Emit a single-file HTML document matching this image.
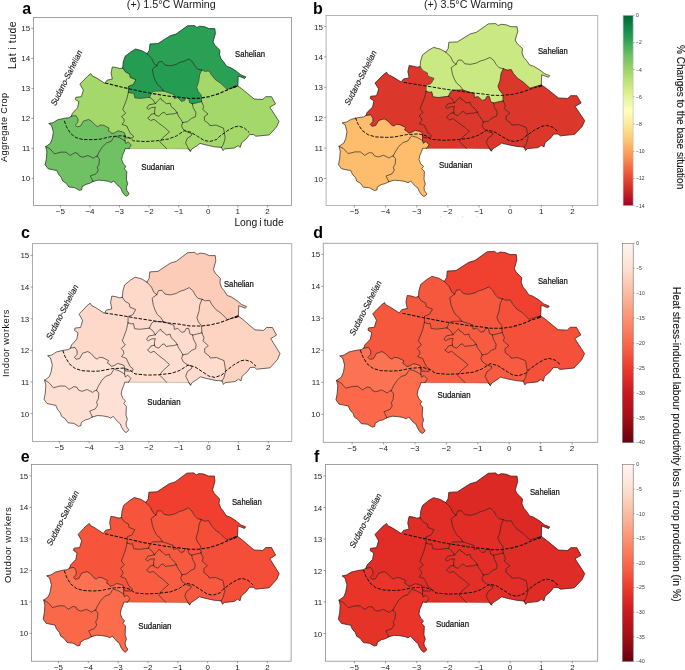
<!DOCTYPE html>
<html><head><meta charset="utf-8"><title>Figure</title>
<style>
html,body{margin:0;padding:0;background:#fff;overflow:hidden;}
body{width:685px;height:670px;position:relative;overflow:hidden;font-family:"Liberation Sans",sans-serif;color:#111;}
svg text{font-family:"Liberation Sans",sans-serif;}
#wrap{position:absolute;left:0;top:0;width:685px;height:670px;overflow:hidden;will-change:transform;transform:translateZ(0);}
.tk{font-size:8px;fill:#262626;}
.cb{font-size:5px;fill:#333;}
.zn{font-size:8.5px;fill:#111;stroke:#111;stroke-width:0.22px;}
.zi{font-size:8.6px;fill:#111;stroke:#111;stroke-width:0.12px;}
.t{position:absolute;white-space:nowrap;line-height:1;}
.pl{font-weight:bold;font-size:16px;color:#000;}
.ttl{font-size:10.75px;color:#1a1a1a;}
.rot{transform-origin:0 0;}
.sb{color:#111;-webkit-text-stroke:0.1px #111;}
</style></head><body><div id="wrap">
<svg width="685" height="670" viewBox="0 0 685 670" style="position:absolute;left:0;top:0">
<g>
<path d="M45.8 146.7L50.4 143.3L52.2 138.9L53.4 132.2L51.6 125.5L48.7 123.5L52.8 122.8L57.4 119.9L64.4 118.3L68.9 117.8L71.5 116.1L75.9 115.6L77.9 118.9L77.9 122.2L75.4 125.0L77.0 126.9L80.5 126.1L83.4 121.1L88.6 119.5L92.1 121.6L95.6 125.5L97.9 126.7L100.0 125.0L103.6 125.3L109.1 128.1L108.0 130.5L110.5 131.9L111.6 133.6L114.5 132.9L118.1 130.8L122.4 131.9L124.6 132.9L125.0 135.6L125.0 140.9L123.9 140.2L119.6 137.7L114.8 136.3L113.7 137.4L111.2 141.3L106.5 143.0L102.5 146.7L99.0 152.2L97.2 156.2L95.6 156.6L93.3 158.2L88.0 155.5L82.8 157.2L79.3 156.0L77.6 153.3L74.8 152.7L70.1 155.5L66.0 152.2L60.9 152.2L54.5 153.9L49.9 148.8L45.8 146.7Z" fill="#70c164" stroke="#70c164" stroke-width="0.4" stroke-linejoin="round"/>
<path d="M93.0 181.5L89.5 183.4L86.1 184.3L82.1 186.7L81.7 189.8L79.3 190.3L74.8 187.6L68.9 187.0L66.0 183.1L62.6 181.0L61.4 177.6L58.5 174.3L56.8 170.4L53.4 169.9L48.1 168.7L45.2 164.8L46.4 158.8L46.9 151.6L45.8 146.7L49.9 148.8L54.5 153.9L60.9 152.2L66.0 152.2L70.1 155.5L74.8 152.7L77.6 153.3L79.3 156.0L82.8 157.2L88.0 155.5L93.3 158.2L95.6 156.6L97.2 156.2L99.4 158.9L99.0 164.3L97.3 167.2L98.2 170.5L96.0 173.9L90.3 175.9L91.6 178.4L93.0 181.5Z" fill="#70c164" stroke="#70c164" stroke-width="0.4" stroke-linejoin="round"/>
<path d="M129.0 148.6L125.1 148.6L124.2 151.5L122.4 155.6L121.6 159.7L123.3 163.9L125.9 166.4L124.2 168.8L126.8 171.4L126.4 179.6L127.7 183.8L126.4 187.1L126.8 190.4L129.0 193.4L128.6 194.6L126.4 196.3L124.2 194.6L122.0 191.3L120.8 188.0L118.2 185.9L115.5 182.9L113.8 180.9L111.2 182.6L108.6 181.3L103.4 180.5L98.2 180.1L93.0 181.5L91.6 178.4L90.3 175.9L96.0 173.9L98.2 170.5L97.3 167.2L99.0 164.3L99.4 158.9L97.2 156.2L99.0 152.2L102.5 146.7L106.5 143.0L111.2 141.3L113.7 137.4L114.8 136.3L119.6 137.7L123.9 140.2L125.0 140.9L125.7 143.6L128.2 141.9L131.2 145.0L129.0 148.6Z" fill="#70c164" stroke="#70c164" stroke-width="0.4" stroke-linejoin="round"/>
<path d="M71.5 116.1L72.4 113.3L77.6 107.8L78.8 101.7L75.4 99.5L75.9 97.3L81.4 96.7L83.4 90.1L79.9 84.1L87.5 76.3L90.9 73.6L92.1 75.8L96.7 78.1L104.8 83.3L107.1 80.2L112.3 79.1L111.1 73.0L112.3 67.0L116.4 67.5L119.9 68.6L122.7 68.1L125.6 72.0L129.7 74.2L130.3 77.5L136.0 79.7L133.1 84.7L128.5 86.3L128.4 92.3L126.8 99.0L122.7 109.4L125.7 113.3L121.6 116.6L123.9 119.0L124.2 121.5L122.0 124.3L126.8 126.0L128.2 129.1L130.4 133.6L133.6 136.0L132.5 138.1L125.9 137.9L125.0 135.6L124.6 132.9L122.4 131.9L118.1 130.8L114.5 132.9L111.6 133.6L110.5 131.9L108.0 130.5L109.1 128.1L103.6 125.3L100.0 125.0L97.9 126.7L95.6 125.5L92.1 121.6L88.6 119.5L83.4 121.1L80.5 126.1L77.0 126.9L75.4 125.0L77.9 122.2L77.9 118.9L75.9 115.6L71.5 116.1Z" fill="#a5d86a" stroke="#a5d86a" stroke-width="0.4" stroke-linejoin="round"/>
<path d="M122.7 68.1L123.3 62.1L125.0 56.4L130.9 51.8L135.5 49.1L141.9 50.7L147.1 53.7L151.7 58.4L154.0 63.5L156.9 65.6L152.3 69.0L153.5 75.6L155.1 80.1L157.5 84.6L161.0 87.3L163.3 91.0L153.7 91.2L151.7 92.8L149.6 97.3L140.2 98.4L134.9 97.9L133.7 92.8L132.0 93.4L128.4 92.3L128.5 86.3L133.1 84.7L136.0 79.7L130.3 77.5L129.7 74.2L125.6 72.0L122.7 68.1Z" fill="#249d53" stroke="#249d53" stroke-width="0.4" stroke-linejoin="round"/>
<path d="M147.1 53.7L149.4 50.2L150.0 44.0L158.1 43.6L170.2 35.8L176.0 34.1L187.5 25.8L194.5 25.6L196.9 27.5L199.7 26.2L204.4 26.7L208.9 28.6L214.8 28.6L215.4 33.5L213.0 41.9L214.8 45.2L219.9 50.2L219.5 54.6L221.1 59.0L223.5 61.7L226.7 66.4L230.6 67.6L236.6 71.4L240.7 74.8L245.8 76.9L244.6 78.4L240.7 76.9L238.2 76.0L237.8 86.0L227.0 89.3L224.5 87.0L220.4 83.1L215.4 79.7L211.3 74.8L209.2 70.9L205.2 71.4L201.7 70.0L197.7 69.1L195.1 66.1L192.6 61.8L189.0 58.9L184.0 61.3L179.9 62.4L176.0 64.5L170.2 65.8L165.0 65.1L162.1 61.5L158.6 61.8L156.9 65.6L154.0 63.5L151.7 58.4L147.1 53.7Z" fill="#2aa054" stroke="#2aa054" stroke-width="0.4" stroke-linejoin="round"/>
<path d="M156.9 65.6L158.6 61.8L162.1 61.5L165.0 65.1L170.2 65.8L176.0 64.5L179.9 62.4L184.0 61.3L189.0 58.9L192.6 61.8L195.1 66.1L197.7 69.1L201.7 70.0L199.6 74.8L198.6 81.7L196.7 87.4L198.1 91.3L201.2 95.2L201.6 101.7L192.4 103.9L189.7 102.7L188.5 97.7L186.1 97.6L184.6 100.6L181.6 101.4L177.6 97.5L174.4 98.5L173.9 94.5L163.3 91.0L161.0 87.3L157.5 84.6L155.1 80.1L153.5 75.6L152.3 69.0L156.9 65.6Z" fill="#249d53" stroke="#249d53" stroke-width="0.4" stroke-linejoin="round"/>
<path d="M237.8 86.0L241.4 88.5L254.1 99.0L262.8 99.5L265.7 96.7L271.5 96.7L275.5 103.9L269.8 107.2L279.0 121.4L276.5 127.0L269.2 134.9L267.5 135.1L255.9 136.2L253.6 134.5L249.6 134.5L246.7 138.4L241.5 142.9L240.3 147.3L238.0 145.6L234.5 147.9L224.7 148.9L222.9 150.6L221.5 147.4L223.5 144.1L225.2 137.7L223.5 128.1L216.1 125.1L209.8 125.6L208.8 123.7L204.5 120.6L204.3 116.7L208.0 114.0L202.6 109.4L203.8 106.7L201.6 101.7L201.2 95.2L198.1 91.3L196.7 87.4L198.6 81.7L199.6 74.8L201.7 70.0L205.2 71.4L209.2 70.9L211.3 74.8L215.4 79.7L220.4 83.1L224.5 87.0L227.0 89.3L237.8 86.0Z" fill="#a5d86a" stroke="#a5d86a" stroke-width="0.4" stroke-linejoin="round"/>
<path d="M221.5 147.4L214.5 146.8L206.4 145.0L200.0 143.4L197.2 145.6L191.9 148.9L190.4 151.2L187.8 147.3L185.6 142.9L187.2 138.4L191.3 135.7L191.9 133.5L187.8 132.3L183.1 129.2L181.5 125.9L182.8 122.6L187.5 121.7L191.5 118.4L195.4 116.8L195.9 112.6L193.2 107.6L192.4 103.9L201.6 101.7L203.8 106.7L202.6 109.4L208.0 114.0L204.3 116.7L204.5 120.6L208.8 123.7L209.8 125.6L216.1 125.1L223.5 128.1L225.2 137.7L223.5 144.1L221.5 147.4Z" fill="#a5d86a" stroke="#a5d86a" stroke-width="0.4" stroke-linejoin="round"/>
<path d="M190.4 151.2L188.4 148.9L166.6 148.6L163.2 145.1L159.7 141.8L162.6 137.9L169.5 131.9L164.6 127.5L158.5 123.0L154.1 119.3L150.7 120.5L147.6 118.0L149.8 116.3L151.1 114.2L154.6 113.5L155.4 115.1L158.9 116.3L162.0 113.0L164.2 112.2L166.3 114.7L168.9 114.2L173.7 113.9L177.1 112.8L178.4 116.0L181.1 119.7L182.8 122.6L181.5 125.9L183.1 129.2L187.8 132.3L191.9 133.5L191.3 135.7L187.2 138.4L185.6 142.9L187.8 147.3L190.4 151.2Z" fill="#a5d86a" stroke="#a5d86a" stroke-width="0.4" stroke-linejoin="round"/>
<path d="M166.6 148.6L129.0 148.6L131.2 145.0L128.2 141.9L125.7 143.6L125.0 140.9L125.0 135.6L125.9 137.9L132.5 138.1L133.6 136.0L130.4 133.6L128.2 129.1L126.8 126.0L122.0 124.3L124.2 121.5L123.9 119.0L121.6 116.6L125.7 113.3L122.7 109.4L126.8 99.0L128.4 92.3L132.0 93.4L133.7 92.8L134.9 97.9L140.2 98.4L149.6 97.3L153.3 100.1L155.4 103.6L149.0 104.8L146.8 108.1L148.5 109.3L151.6 107.6L155.4 107.2L154.6 110.1L154.6 113.5L151.1 114.2L149.8 116.3L147.6 118.0L150.7 120.5L154.1 119.3L158.5 123.0L164.6 127.5L169.5 131.9L162.6 137.9L159.7 141.8L163.2 145.1L166.6 148.6Z" fill="#a5d86a" stroke="#a5d86a" stroke-width="0.4" stroke-linejoin="round"/>
<path d="M149.6 97.3L151.7 92.8L153.7 91.2L163.3 91.0L173.9 94.5L174.4 98.5L177.6 97.5L181.6 101.4L184.6 100.6L186.1 97.6L188.5 97.7L189.7 102.7L192.4 103.9L193.2 107.6L195.9 112.6L195.4 116.8L191.5 118.4L187.5 121.7L182.8 122.6L181.1 119.7L178.4 116.0L177.1 112.8L175.0 109.7L171.1 106.4L170.2 103.1L166.3 103.9L164.2 101.5L161.6 100.1L160.7 98.0L157.6 101.0L155.4 103.6L153.3 100.1L149.6 97.3Z" fill="#a5d86a" stroke="#a5d86a" stroke-width="0.4" stroke-linejoin="round"/>
<path d="M155.4 103.6L157.6 101.0L160.7 98.0L161.6 100.1L164.2 101.5L166.3 103.9L170.2 103.1L171.1 106.4L175.0 109.7L177.1 112.8L173.7 113.9L168.9 114.2L166.3 114.7L164.2 112.2L162.0 113.0L158.9 116.3L155.4 115.1L154.6 113.5L154.6 110.1L155.4 107.2L151.6 107.6L148.5 109.3L146.8 108.1L149.0 104.8L155.4 103.6Z" fill="#a5d86a" stroke="#a5d86a" stroke-width="0.4" stroke-linejoin="round"/>
<path d="M71.5 116.1L72.4 113.3L77.6 107.8L78.8 101.7L75.4 99.5L75.9 97.3L81.4 96.7L83.4 90.1L79.9 84.1L87.5 76.3L90.9 73.6L92.1 75.8L96.7 78.1L104.8 83.3L107.1 80.2L112.3 79.1L111.1 73.0L112.3 67.0L116.4 67.5L119.9 68.6L122.7 68.1M122.7 68.1L123.3 62.1L125.0 56.4L130.9 51.8L135.5 49.1L141.9 50.7L147.1 53.7M147.1 53.7L149.4 50.2L150.0 44.0L158.1 43.6L170.2 35.8L176.0 34.1L187.5 25.8L194.5 25.6L196.9 27.5L199.7 26.2L204.4 26.7L208.9 28.6L214.8 28.6L215.4 33.5L213.0 41.9L214.8 45.2L219.9 50.2L219.5 54.6L221.1 59.0L223.5 61.7L226.7 66.4L230.6 67.6L236.6 71.4L240.7 74.8L245.8 76.9L244.6 78.4L240.7 76.9L238.2 76.0L237.8 86.0M237.8 86.0L241.4 88.5L254.1 99.0L262.8 99.5L265.7 96.7L271.5 96.7L275.5 103.9L269.8 107.2L279.0 121.4L276.5 127.0L269.2 134.9L267.5 135.1L255.9 136.2L253.6 134.5L249.6 134.5L246.7 138.4L241.5 142.9L240.3 147.3L238.0 145.6L234.5 147.9L224.7 148.9L222.9 150.6L221.5 147.4M221.5 147.4L214.5 146.8L206.4 145.0L200.0 143.4L197.2 145.6L191.9 148.9L190.4 151.2M129.0 148.6L125.1 148.6L124.2 151.5L122.4 155.6L121.6 159.7L123.3 163.9L125.9 166.4L124.2 168.8L126.8 171.4L126.4 179.6L127.7 183.8L126.4 187.1L126.8 190.4L129.0 193.4L128.6 194.6L126.4 196.3L124.2 194.6L122.0 191.3L120.8 188.0L118.2 185.9L115.5 182.9L113.8 180.9L111.2 182.6L108.6 181.3L103.4 180.5L98.2 180.1L93.0 181.5M93.0 181.5L89.5 183.4L86.1 184.3L82.1 186.7L81.7 189.8L79.3 190.3L74.8 187.6L68.9 187.0L66.0 183.1L62.6 181.0L61.4 177.6L58.5 174.3L56.8 170.4L53.4 169.9L48.1 168.7L45.2 164.8L46.4 158.8L46.9 151.6L45.8 146.7M45.8 146.7L50.4 143.3L52.2 138.9L53.4 132.2L51.6 125.5L48.7 123.5L52.8 122.8L57.4 119.9L64.4 118.3L68.9 117.8L71.5 116.1M71.5 116.1L75.9 115.6L77.9 118.9L77.9 122.2L75.4 125.0L77.0 126.9L80.5 126.1L83.4 121.1L88.6 119.5L92.1 121.6L95.6 125.5L97.9 126.7L100.0 125.0L103.6 125.3L109.1 128.1L108.0 130.5L110.5 131.9L111.6 133.6L114.5 132.9L118.1 130.8L122.4 131.9L124.6 132.9L125.0 135.6M122.7 68.1L125.6 72.0L129.7 74.2L130.3 77.5L136.0 79.7L133.1 84.7L128.5 86.3L128.4 92.3M128.4 92.3L126.8 99.0L122.7 109.4L125.7 113.3L121.6 116.6L123.9 119.0L124.2 121.5L122.0 124.3L126.8 126.0L128.2 129.1L130.4 133.6L133.6 136.0L132.5 138.1L125.9 137.9L125.0 135.6M147.1 53.7L151.7 58.4L154.0 63.5L156.9 65.6M156.9 65.6L158.6 61.8L162.1 61.5L165.0 65.1L170.2 65.8L176.0 64.5L179.9 62.4L184.0 61.3L189.0 58.9L192.6 61.8L195.1 66.1L197.7 69.1L201.7 70.0M201.7 70.0L205.2 71.4L209.2 70.9L211.3 74.8L215.4 79.7L220.4 83.1L224.5 87.0L227.0 89.3L237.8 86.0M156.9 65.6L152.3 69.0L153.5 75.6L155.1 80.1L157.5 84.6L161.0 87.3L163.3 91.0M128.4 92.3L132.0 93.4L133.7 92.8L134.9 97.9L140.2 98.4L149.6 97.3M149.6 97.3L151.7 92.8L153.7 91.2L163.3 91.0M163.3 91.0L173.9 94.5L174.4 98.5L177.6 97.5L181.6 101.4L184.6 100.6L186.1 97.6L188.5 97.7L189.7 102.7L192.4 103.9M192.4 103.9L201.6 101.7M201.7 70.0L199.6 74.8L198.6 81.7L196.7 87.4L198.1 91.3L201.2 95.2L201.6 101.7M201.6 101.7L203.8 106.7L202.6 109.4L208.0 114.0L204.3 116.7L204.5 120.6L208.8 123.7L209.8 125.6L216.1 125.1L223.5 128.1L225.2 137.7L223.5 144.1L221.5 147.4M149.6 97.3L153.3 100.1L155.4 103.6M155.4 103.6L157.6 101.0L160.7 98.0L161.6 100.1L164.2 101.5L166.3 103.9L170.2 103.1L171.1 106.4L175.0 109.7L177.1 112.8M177.1 112.8L173.7 113.9L168.9 114.2L166.3 114.7L164.2 112.2L162.0 113.0L158.9 116.3L155.4 115.1L154.6 113.5M154.6 113.5L154.6 110.1L155.4 107.2L151.6 107.6L148.5 109.3L146.8 108.1L149.0 104.8L155.4 103.6M177.1 112.8L178.4 116.0L181.1 119.7L182.8 122.6M192.4 103.9L193.2 107.6L195.9 112.6L195.4 116.8L191.5 118.4L187.5 121.7L182.8 122.6M182.8 122.6L181.5 125.9L183.1 129.2L187.8 132.3L191.9 133.5L191.3 135.7L187.2 138.4L185.6 142.9L187.8 147.3L190.4 151.2M154.6 113.5L151.1 114.2L149.8 116.3L147.6 118.0L150.7 120.5L154.1 119.3L158.5 123.0L164.6 127.5L169.5 131.9L162.6 137.9L159.7 141.8L163.2 145.1L166.6 148.6M125.0 135.6L125.0 140.9M97.2 156.2L99.0 152.2L102.5 146.7L106.5 143.0L111.2 141.3L113.7 137.4L114.8 136.3L119.6 137.7L123.9 140.2L125.0 140.9M125.0 140.9L125.7 143.6L128.2 141.9L131.2 145.0L129.0 148.6M45.8 146.7L49.9 148.8L54.5 153.9L60.9 152.2L66.0 152.2L70.1 155.5L74.8 152.7L77.6 153.3L79.3 156.0L82.8 157.2L88.0 155.5L93.3 158.2L95.6 156.6L97.2 156.2M97.2 156.2L99.4 158.9L99.0 164.3L97.3 167.2L98.2 170.5L96.0 173.9L90.3 175.9L91.6 178.4L93.0 181.5" fill="none" stroke="#161616" stroke-width="0.62" stroke-linejoin="round" stroke-linecap="round"/>
<path d="M190.4 151.2L188.4 148.9" fill="none" stroke="#161616" stroke-width="0.62" stroke-linecap="round"/>
<path d="M188.4 148.9L166.6 148.6M166.6 148.6L129.0 148.6" fill="none" stroke="#000" stroke-opacity="0.33" stroke-width="0.55"/>
<path d="M105.1 83.0L120.1 86.7L143.1 91.9L166.0 95.8L179.1 97.2L189.2 98.5L199.2 98.3L209.3 96.6L219.4 93.5L225.9 90.5L236.4 86.2" fill="none" stroke="#111" stroke-width="1.15" stroke-dasharray="3.4 1.5"/>
<path d="M64.3 120.8L66.5 126.8L70.4 133.3L76.0 137.6L82.7 139.5L92.8 139.7L99.9 139.2L111.1 136.6L122.3 135.7L129.0 137.6L133.4 140.8L144.6 141.6L155.8 140.9L168.5 139.0L176.4 136.0L184.1 130.7L190.8 132.2L197.5 136.3L204.3 140.5L209.9 141.5L216.6 139.5L219.7 136.3L227.6 130.6L234.3 127.0L238.7 126.1L244.3 127.9L249.3 132.6" fill="none" stroke="#111" stroke-width="0.95" stroke-dasharray="3.4 1.5"/>
<path d="M236.4 86.2l-3.2 1.1" fill="none" stroke="#111" stroke-width="1.8"/>
<rect x="33.4" y="17.4" width="258.0" height="188.0" fill="none" stroke="#7d7d7d" stroke-width="0.7"/>
<path d="M33.4 178.4h-2" stroke="#444" stroke-width="0.5"/>
<text x="30.2" y="181.4" class="tk" text-anchor="end">10</text>
<path d="M33.4 148.4h-2" stroke="#444" stroke-width="0.5"/>
<text x="30.2" y="151.4" class="tk" text-anchor="end">11</text>
<path d="M33.4 118.4h-2" stroke="#444" stroke-width="0.5"/>
<text x="30.2" y="121.4" class="tk" text-anchor="end">12</text>
<path d="M33.4 88.4h-2" stroke="#444" stroke-width="0.5"/>
<text x="30.2" y="91.4" class="tk" text-anchor="end">13</text>
<path d="M33.4 58.4h-2" stroke="#444" stroke-width="0.5"/>
<text x="30.2" y="61.4" class="tk" text-anchor="end">14</text>
<path d="M33.4 28.4h-2" stroke="#444" stroke-width="0.5"/>
<text x="30.2" y="31.4" class="tk" text-anchor="end">15</text>
<path d="M60.4 205.4v2" stroke="#444" stroke-width="0.5"/>
<text x="60.4" y="214.0" class="tk" text-anchor="middle">−5</text>
<path d="M90.0 205.4v2" stroke="#444" stroke-width="0.5"/>
<text x="90.0" y="214.0" class="tk" text-anchor="middle">−4</text>
<path d="M119.5 205.4v2" stroke="#444" stroke-width="0.5"/>
<text x="119.5" y="214.0" class="tk" text-anchor="middle">−3</text>
<path d="M149.1 205.4v2" stroke="#444" stroke-width="0.5"/>
<text x="149.1" y="214.0" class="tk" text-anchor="middle">−2</text>
<path d="M178.7 205.4v2" stroke="#444" stroke-width="0.5"/>
<text x="178.7" y="214.0" class="tk" text-anchor="middle">−1</text>
<path d="M208.3 205.4v2" stroke="#444" stroke-width="0.5"/>
<text x="208.3" y="214.0" class="tk" text-anchor="middle">0</text>
<path d="M237.8 205.4v2" stroke="#444" stroke-width="0.5"/>
<text x="237.8" y="214.0" class="tk" text-anchor="middle">1</text>
<path d="M267.4 205.4v2" stroke="#444" stroke-width="0.5"/>
<text x="267.4" y="214.0" class="tk" text-anchor="middle">2</text>
<text x="235.1" y="56.8" class="zn" textLength="29.9" lengthAdjust="spacingAndGlyphs">Sahelian</text>
<text x="141.2" y="170.1" class="zn" textLength="33.2" lengthAdjust="spacingAndGlyphs">Sudanian</text>
<text transform="translate(67.1 78.1) rotate(-63.4) skewX(-9)" class="zi" x="-30.2" y="2.3" textLength="60.4" lengthAdjust="spacingAndGlyphs">Sudano-Sahelian</text>
</g>
<g>
<path d="M339.1 146.3L343.9 143.0L345.8 138.5L347.0 131.6L345.2 124.9L342.1 122.9L346.4 122.1L351.3 119.3L358.6 117.6L363.4 117.0L366.1 115.4L370.7 114.8L372.9 118.2L372.9 121.6L370.2 124.3L372.0 126.3L375.6 125.5L378.7 120.4L384.2 118.8L387.9 121.0L391.5 124.9L393.9 126.1L396.2 124.3L400.0 124.7L405.7 127.5L404.6 129.9L407.3 131.4L408.4 133.1L411.4 132.4L415.2 130.3L419.8 131.4L422.1 132.4L422.5 135.1L422.5 140.5L421.4 139.8L416.8 137.3L411.8 135.9L410.6 136.9L408.0 140.9L403.0 142.6L398.8 146.3L395.2 151.9L393.2 156.0L391.5 156.4L389.1 158.0L383.6 155.3L378.0 157.0L374.4 155.8L372.6 153.1L369.6 152.5L364.7 155.3L360.4 151.9L355.0 151.9L348.2 153.6L343.4 148.5L339.1 146.3Z" fill="#fdbd6d" stroke="#fdbd6d" stroke-width="0.4" stroke-linejoin="round"/>
<path d="M388.8 181.7L385.1 183.6L381.5 184.5L377.3 186.9L376.9 190.0L374.4 190.6L369.6 187.8L363.4 187.2L360.4 183.3L356.7 181.1L355.5 177.7L352.5 174.4L350.7 170.4L347.0 169.9L341.5 168.7L338.5 164.8L339.7 158.6L340.3 151.3L339.1 146.3L343.4 148.5L348.2 153.6L355.0 151.9L360.4 151.9L364.7 155.3L369.6 152.5L372.6 153.1L374.4 155.8L378.0 157.0L383.6 155.3L389.1 158.0L391.5 156.4L393.2 156.0L395.6 158.7L395.2 164.2L393.3 167.2L394.2 170.5L391.9 173.9L386.0 176.0L387.3 178.5L388.8 181.7Z" fill="#fdbd6d" stroke="#fdbd6d" stroke-width="0.4" stroke-linejoin="round"/>
<path d="M426.7 148.3L422.6 148.3L421.7 151.2L419.8 155.4L419.0 159.6L420.7 163.8L423.5 166.3L421.7 168.8L424.4 171.4L424.0 179.7L425.3 184.0L424.0 187.3L424.4 190.7L426.7 193.7L426.3 194.9L424.0 196.6L421.7 194.9L419.4 191.6L418.0 188.2L415.3 186.1L412.5 183.1L410.7 181.0L408.0 182.7L405.2 181.5L399.8 180.6L394.2 180.2L388.8 181.7L387.3 178.5L386.0 176.0L391.9 173.9L394.2 170.5L393.3 167.2L395.2 164.2L395.6 158.7L393.2 156.0L395.2 151.9L398.8 146.3L403.0 142.6L408.0 140.9L410.6 136.9L411.8 135.9L416.8 137.3L421.4 139.8L422.5 140.5L423.2 143.3L425.9 141.5L429.0 144.7L426.7 148.3Z" fill="#fdbd6d" stroke="#fdbd6d" stroke-width="0.4" stroke-linejoin="round"/>
<path d="M366.1 115.4L367.1 112.5L372.6 107.0L373.9 100.8L370.2 98.5L370.7 96.3L376.6 95.7L378.7 89.0L375.0 83.0L382.9 75.1L386.6 72.3L387.9 74.5L392.7 76.8L401.2 82.1L403.6 79.0L409.2 77.9L407.9 71.7L409.2 65.6L413.4 66.2L417.1 67.2L420.1 66.7L423.1 70.7L427.4 72.9L428.0 76.2L434.1 78.4L431.1 83.5L426.2 85.2L426.1 91.2L424.4 98.0L420.1 108.6L423.2 112.5L419.0 115.9L421.4 118.3L421.7 120.8L419.4 123.7L424.4 125.4L425.9 128.6L428.1 133.1L431.6 135.6L430.4 137.7L423.5 137.5L422.5 135.1L422.1 132.4L419.8 131.4L415.2 130.3L411.4 132.4L408.4 133.1L407.3 131.4L404.6 129.9L405.7 127.5L400.0 124.7L396.2 124.3L393.9 126.1L391.5 124.9L387.9 121.0L384.2 118.8L378.7 120.4L375.6 125.5L372.0 126.3L370.2 124.3L372.9 121.6L372.9 118.2L370.7 114.8L366.1 115.4Z" fill="#db382b" stroke="#db382b" stroke-width="0.4" stroke-linejoin="round"/>
<path d="M420.1 66.7L420.7 60.7L422.5 54.9L428.7 50.2L433.6 47.4L440.3 49.1L445.8 52.1L450.6 56.9L453.1 62.0L456.1 64.2L451.2 67.6L452.5 74.3L454.2 78.9L456.8 83.4L460.4 86.2L462.8 90.0L452.7 90.2L450.6 91.8L448.4 96.3L438.5 97.5L433.0 96.9L431.7 91.8L429.9 92.4L426.1 91.2L426.2 85.2L431.1 83.5L434.1 78.4L428.0 76.2L427.4 72.9L423.1 70.7L420.1 66.7Z" fill="#cbe982" stroke="#cbe982" stroke-width="0.4" stroke-linejoin="round"/>
<path d="M445.8 52.1L448.2 48.6L448.8 42.3L457.4 41.9L470.1 34.0L476.3 32.3L488.4 23.9L495.7 23.6L498.2 25.5L501.2 24.3L506.1 24.8L510.9 26.7L517.1 26.7L517.7 31.7L515.2 40.1L517.1 43.5L522.5 48.6L522.0 53.0L523.8 57.5L526.3 60.2L529.6 65.0L533.7 66.3L540.1 70.1L544.3 73.5L549.8 75.7L548.5 77.2L544.3 75.7L541.7 74.7L541.3 84.9L529.9 88.2L527.3 85.8L523.0 81.9L517.7 78.4L513.4 73.5L511.2 69.6L507.0 70.1L503.3 68.7L499.0 67.7L496.3 64.7L493.7 60.3L489.9 57.4L484.6 59.8L480.3 61.0L476.3 63.1L470.1 64.4L464.7 63.7L461.6 60.0L457.9 60.3L456.1 64.2L453.1 62.0L450.6 56.9L445.8 52.1Z" fill="#cbe982" stroke="#cbe982" stroke-width="0.4" stroke-linejoin="round"/>
<path d="M456.1 64.2L457.9 60.3L461.6 60.0L464.7 63.7L470.1 64.4L476.3 63.1L480.3 61.0L484.6 59.8L489.9 57.4L493.7 60.3L496.3 64.7L499.0 67.7L503.3 68.7L501.1 73.5L500.1 80.5L498.0 86.3L499.6 90.3L502.8 94.2L503.2 100.8L493.5 103.0L490.7 101.8L489.4 96.7L486.8 96.6L485.3 99.7L482.1 100.4L477.9 96.5L474.5 97.6L474.0 93.5L462.8 90.0L460.4 86.2L456.8 83.4L454.2 78.9L452.5 74.3L451.2 67.6L456.1 64.2Z" fill="#cbe982" stroke="#cbe982" stroke-width="0.4" stroke-linejoin="round"/>
<path d="M541.3 84.9L545.1 87.4L558.5 98.0L567.6 98.5L570.7 95.7L576.8 95.7L581.1 103.0L575.0 106.4L584.7 120.7L582.1 126.5L574.4 134.4L572.6 134.6L560.4 135.8L558.0 134.0L553.7 134.0L550.7 138.0L545.2 142.5L543.9 147.0L541.5 145.3L537.9 147.6L527.5 148.6L525.6 150.4L524.2 147.1L526.3 143.7L528.1 137.3L526.3 127.5L518.4 124.5L511.9 125.0L510.8 123.1L506.2 119.9L506.0 116.0L509.9 113.2L504.2 108.6L505.5 105.8L503.2 100.8L502.8 94.2L499.6 90.3L498.0 86.3L500.1 80.5L501.1 73.5L503.3 68.7L507.0 70.1L511.2 69.6L513.4 73.5L517.7 78.4L523.0 81.9L527.3 85.8L529.9 88.2L541.3 84.9Z" fill="#db382b" stroke="#db382b" stroke-width="0.4" stroke-linejoin="round"/>
<path d="M524.2 147.1L516.8 146.4L508.2 144.7L501.5 143.1L498.5 145.3L493.0 148.6L491.4 150.9L488.7 147.0L486.3 142.5L488.1 138.0L492.3 135.2L493.0 133.0L488.7 131.8L483.7 128.7L482.0 125.3L483.4 121.9L488.4 121.1L492.6 117.7L496.6 116.1L497.2 111.9L494.3 106.8L493.5 103.0L503.2 100.8L505.5 105.8L504.2 108.6L509.9 113.2L506.0 116.0L506.2 119.9L510.8 123.1L511.9 125.0L518.4 124.5L526.3 127.5L528.1 137.3L526.3 143.7L524.2 147.1Z" fill="#db382b" stroke="#db382b" stroke-width="0.4" stroke-linejoin="round"/>
<path d="M491.4 150.9L489.3 148.6L466.4 148.3L462.7 144.8L459.0 141.4L462.1 137.5L469.4 131.4L464.2 126.9L457.8 122.3L453.2 118.6L449.5 119.8L446.3 117.3L448.6 115.6L450.0 113.5L453.7 112.7L454.6 114.4L458.2 115.6L461.4 112.2L463.7 111.4L466.0 114.0L468.8 113.5L473.8 113.1L477.4 112.1L478.8 115.2L481.6 119.0L483.4 121.9L482.0 125.3L483.7 128.7L488.7 131.8L493.0 133.0L492.3 135.2L488.1 138.0L486.3 142.5L488.7 147.0L491.4 150.9Z" fill="#db382b" stroke="#db382b" stroke-width="0.4" stroke-linejoin="round"/>
<path d="M466.4 148.3L426.7 148.3L429.0 144.7L425.9 141.5L423.2 143.3L422.5 140.5L422.5 135.1L423.5 137.5L430.4 137.7L431.6 135.6L428.1 133.1L425.9 128.6L424.4 125.4L419.4 123.7L421.7 120.8L421.4 118.3L419.0 115.9L423.2 112.5L420.1 108.6L424.4 98.0L426.1 91.2L429.9 92.4L431.7 91.8L433.0 96.9L438.5 97.5L448.4 96.3L452.3 99.2L454.6 102.7L447.8 103.9L445.5 107.3L447.3 108.5L450.5 106.8L454.6 106.4L453.7 109.3L453.7 112.7L450.0 113.5L448.6 115.6L446.3 117.3L449.5 119.8L453.2 118.6L457.8 122.3L464.2 126.9L469.4 131.4L462.1 137.5L459.0 141.4L462.7 144.8L466.4 148.3Z" fill="#db382b" stroke="#db382b" stroke-width="0.4" stroke-linejoin="round"/>
<path d="M448.4 96.3L450.6 91.8L452.7 90.2L462.8 90.0L474.0 93.5L474.5 97.6L477.9 96.5L482.1 100.4L485.3 99.7L486.8 96.6L489.4 96.7L490.7 101.8L493.5 103.0L494.3 106.8L497.2 111.9L496.6 116.1L492.6 117.7L488.4 121.1L483.4 121.9L481.6 119.0L478.8 115.2L477.4 112.1L475.1 108.9L471.1 105.5L470.1 102.2L466.0 103.0L463.7 100.5L461.0 99.2L460.1 97.1L456.9 100.1L454.6 102.7L452.3 99.2L448.4 96.3Z" fill="#db382b" stroke="#db382b" stroke-width="0.4" stroke-linejoin="round"/>
<path d="M454.6 102.7L456.9 100.1L460.1 97.1L461.0 99.2L463.7 100.5L466.0 103.0L470.1 102.2L471.1 105.5L475.1 108.9L477.4 112.1L473.8 113.1L468.8 113.5L466.0 114.0L463.7 111.4L461.4 112.2L458.2 115.6L454.6 114.4L453.7 112.7L453.7 109.3L454.6 106.4L450.5 106.8L447.3 108.5L445.5 107.3L447.8 103.9L454.6 102.7Z" fill="#db382b" stroke="#db382b" stroke-width="0.4" stroke-linejoin="round"/>
<path d="M366.1 115.4L367.1 112.5L372.6 107.0L373.9 100.8L370.2 98.5L370.7 96.3L376.6 95.7L378.7 89.0L375.0 83.0L382.9 75.1L386.6 72.3L387.9 74.5L392.7 76.8L401.2 82.1L403.6 79.0L409.2 77.9L407.9 71.7L409.2 65.6L413.4 66.2L417.1 67.2L420.1 66.7M420.1 66.7L420.7 60.7L422.5 54.9L428.7 50.2L433.6 47.4L440.3 49.1L445.8 52.1M445.8 52.1L448.2 48.6L448.8 42.3L457.4 41.9L470.1 34.0L476.3 32.3L488.4 23.9L495.7 23.6L498.2 25.5L501.2 24.3L506.1 24.8L510.9 26.7L517.1 26.7L517.7 31.7L515.2 40.1L517.1 43.5L522.5 48.6L522.0 53.0L523.8 57.5L526.3 60.2L529.6 65.0L533.7 66.3L540.1 70.1L544.3 73.5L549.8 75.7L548.5 77.2L544.3 75.7L541.7 74.7L541.3 84.9M541.3 84.9L545.1 87.4L558.5 98.0L567.6 98.5L570.7 95.7L576.8 95.7L581.1 103.0L575.0 106.4L584.7 120.7L582.1 126.5L574.4 134.4L572.6 134.6L560.4 135.8L558.0 134.0L553.7 134.0L550.7 138.0L545.2 142.5L543.9 147.0L541.5 145.3L537.9 147.6L527.5 148.6L525.6 150.4L524.2 147.1M524.2 147.1L516.8 146.4L508.2 144.7L501.5 143.1L498.5 145.3L493.0 148.6L491.4 150.9M426.7 148.3L422.6 148.3L421.7 151.2L419.8 155.4L419.0 159.6L420.7 163.8L423.5 166.3L421.7 168.8L424.4 171.4L424.0 179.7L425.3 184.0L424.0 187.3L424.4 190.7L426.7 193.7L426.3 194.9L424.0 196.6L421.7 194.9L419.4 191.6L418.0 188.2L415.3 186.1L412.5 183.1L410.7 181.0L408.0 182.7L405.2 181.5L399.8 180.6L394.2 180.2L388.8 181.7M388.8 181.7L385.1 183.6L381.5 184.5L377.3 186.9L376.9 190.0L374.4 190.6L369.6 187.8L363.4 187.2L360.4 183.3L356.7 181.1L355.5 177.7L352.5 174.4L350.7 170.4L347.0 169.9L341.5 168.7L338.5 164.8L339.7 158.6L340.3 151.3L339.1 146.3M339.1 146.3L343.9 143.0L345.8 138.5L347.0 131.6L345.2 124.9L342.1 122.9L346.4 122.1L351.3 119.3L358.6 117.6L363.4 117.0L366.1 115.4M366.1 115.4L370.7 114.8L372.9 118.2L372.9 121.6L370.2 124.3L372.0 126.3L375.6 125.5L378.7 120.4L384.2 118.8L387.9 121.0L391.5 124.9L393.9 126.1L396.2 124.3L400.0 124.7L405.7 127.5L404.6 129.9L407.3 131.4L408.4 133.1L411.4 132.4L415.2 130.3L419.8 131.4L422.1 132.4L422.5 135.1M420.1 66.7L423.1 70.7L427.4 72.9L428.0 76.2L434.1 78.4L431.1 83.5L426.2 85.2L426.1 91.2M426.1 91.2L424.4 98.0L420.1 108.6L423.2 112.5L419.0 115.9L421.4 118.3L421.7 120.8L419.4 123.7L424.4 125.4L425.9 128.6L428.1 133.1L431.6 135.6L430.4 137.7L423.5 137.5L422.5 135.1M445.8 52.1L450.6 56.9L453.1 62.0L456.1 64.2M456.1 64.2L457.9 60.3L461.6 60.0L464.7 63.7L470.1 64.4L476.3 63.1L480.3 61.0L484.6 59.8L489.9 57.4L493.7 60.3L496.3 64.7L499.0 67.7L503.3 68.7M503.3 68.7L507.0 70.1L511.2 69.6L513.4 73.5L517.7 78.4L523.0 81.9L527.3 85.8L529.9 88.2L541.3 84.9M456.1 64.2L451.2 67.6L452.5 74.3L454.2 78.9L456.8 83.4L460.4 86.2L462.8 90.0M426.1 91.2L429.9 92.4L431.7 91.8L433.0 96.9L438.5 97.5L448.4 96.3M448.4 96.3L450.6 91.8L452.7 90.2L462.8 90.0M462.8 90.0L474.0 93.5L474.5 97.6L477.9 96.5L482.1 100.4L485.3 99.7L486.8 96.6L489.4 96.7L490.7 101.8L493.5 103.0M493.5 103.0L503.2 100.8M503.3 68.7L501.1 73.5L500.1 80.5L498.0 86.3L499.6 90.3L502.8 94.2L503.2 100.8M503.2 100.8L505.5 105.8L504.2 108.6L509.9 113.2L506.0 116.0L506.2 119.9L510.8 123.1L511.9 125.0L518.4 124.5L526.3 127.5L528.1 137.3L526.3 143.7L524.2 147.1M448.4 96.3L452.3 99.2L454.6 102.7M454.6 102.7L456.9 100.1L460.1 97.1L461.0 99.2L463.7 100.5L466.0 103.0L470.1 102.2L471.1 105.5L475.1 108.9L477.4 112.1M477.4 112.1L473.8 113.1L468.8 113.5L466.0 114.0L463.7 111.4L461.4 112.2L458.2 115.6L454.6 114.4L453.7 112.7M453.7 112.7L453.7 109.3L454.6 106.4L450.5 106.8L447.3 108.5L445.5 107.3L447.8 103.9L454.6 102.7M477.4 112.1L478.8 115.2L481.6 119.0L483.4 121.9M493.5 103.0L494.3 106.8L497.2 111.9L496.6 116.1L492.6 117.7L488.4 121.1L483.4 121.9M483.4 121.9L482.0 125.3L483.7 128.7L488.7 131.8L493.0 133.0L492.3 135.2L488.1 138.0L486.3 142.5L488.7 147.0L491.4 150.9M453.7 112.7L450.0 113.5L448.6 115.6L446.3 117.3L449.5 119.8L453.2 118.6L457.8 122.3L464.2 126.9L469.4 131.4L462.1 137.5L459.0 141.4L462.7 144.8L466.4 148.3M422.5 135.1L422.5 140.5M393.2 156.0L395.2 151.9L398.8 146.3L403.0 142.6L408.0 140.9L410.6 136.9L411.8 135.9L416.8 137.3L421.4 139.8L422.5 140.5M422.5 140.5L423.2 143.3L425.9 141.5L429.0 144.7L426.7 148.3M339.1 146.3L343.4 148.5L348.2 153.6L355.0 151.9L360.4 151.9L364.7 155.3L369.6 152.5L372.6 153.1L374.4 155.8L378.0 157.0L383.6 155.3L389.1 158.0L391.5 156.4L393.2 156.0M393.2 156.0L395.6 158.7L395.2 164.2L393.3 167.2L394.2 170.5L391.9 173.9L386.0 176.0L387.3 178.5L388.8 181.7" fill="none" stroke="#161616" stroke-width="0.62" stroke-linejoin="round" stroke-linecap="round"/>
<path d="M491.4 150.9L489.3 148.6" fill="none" stroke="#161616" stroke-width="0.62" stroke-linecap="round"/>
<path d="M489.3 148.6L466.4 148.3M466.4 148.3L426.7 148.3" fill="none" stroke="#000" stroke-opacity="0.33" stroke-width="0.55"/>
<path d="M403.7 82.4L419.4 84.9L443.6 88.9L467.7 92.4L481.5 93.8L492.0 95.3L502.6 95.4L513.3 94.2L523.8 91.6L530.6 89.0L541.7 85.5" fill="none" stroke="#111" stroke-width="1.00" stroke-dasharray="3.4 1.5"/>
<path d="M355.4 117.6L357.8 123.7L362.1 130.4L368.2 134.8L375.5 136.9L386.7 137.4L394.4 137.0L406.7 134.6L419.0 133.9L426.3 136.0L431.1 139.3L443.4 140.3L455.7 139.8L469.7 138.2L478.3 135.3L486.8 130.1L494.1 131.7L501.4 136.1L508.9 140.5L515.0 141.6L522.3 139.4L525.8 136.1L534.4 130.1L541.7 126.4L546.6 125.4L552.7 127.2L558.2 131.8" fill="none" stroke="#111" stroke-width="1.00" stroke-dasharray="3.4 1.5"/>
<path d="M541.7 85.5l-3.2 1.1" fill="none" stroke="#111" stroke-width="1.8"/>
<rect x="326.1" y="15.5" width="271.6" height="190.0" fill="none" stroke="#b4b4b4" stroke-width="1.0"/>
<path d="M326.1 178.5h-2" stroke="#444" stroke-width="0.5"/>
<text x="322.9" y="181.5" class="tk" text-anchor="end">10</text>
<path d="M326.1 148.1h-2" stroke="#444" stroke-width="0.5"/>
<text x="322.9" y="151.1" class="tk" text-anchor="end">11</text>
<path d="M326.1 117.7h-2" stroke="#444" stroke-width="0.5"/>
<text x="322.9" y="120.7" class="tk" text-anchor="end">12</text>
<path d="M326.1 87.3h-2" stroke="#444" stroke-width="0.5"/>
<text x="322.9" y="90.3" class="tk" text-anchor="end">13</text>
<path d="M326.1 56.9h-2" stroke="#444" stroke-width="0.5"/>
<text x="322.9" y="59.9" class="tk" text-anchor="end">14</text>
<path d="M326.1 26.5h-2" stroke="#444" stroke-width="0.5"/>
<text x="322.9" y="29.5" class="tk" text-anchor="end">15</text>
<path d="M354.4 205.5v2" stroke="#444" stroke-width="0.5"/>
<text x="354.4" y="214.1" class="tk" text-anchor="middle">−5</text>
<path d="M385.6 205.5v2" stroke="#444" stroke-width="0.5"/>
<text x="385.6" y="214.1" class="tk" text-anchor="middle">−4</text>
<path d="M416.8 205.5v2" stroke="#444" stroke-width="0.5"/>
<text x="416.8" y="214.1" class="tk" text-anchor="middle">−3</text>
<path d="M447.9 205.5v2" stroke="#444" stroke-width="0.5"/>
<text x="447.9" y="214.1" class="tk" text-anchor="middle">−2</text>
<path d="M479.0 205.5v2" stroke="#444" stroke-width="0.5"/>
<text x="479.0" y="214.1" class="tk" text-anchor="middle">−1</text>
<path d="M510.2 205.5v2" stroke="#444" stroke-width="0.5"/>
<text x="510.2" y="214.1" class="tk" text-anchor="middle">0</text>
<path d="M541.3 205.5v2" stroke="#444" stroke-width="0.5"/>
<text x="541.3" y="214.1" class="tk" text-anchor="middle">1</text>
<path d="M572.5 205.5v2" stroke="#444" stroke-width="0.5"/>
<text x="572.5" y="214.1" class="tk" text-anchor="middle">2</text>
<text x="538.0" y="54.0" class="zn" textLength="29.9" lengthAdjust="spacingAndGlyphs">Sahelian</text>
<text x="439.1" y="167.8" class="zn" textLength="33.2" lengthAdjust="spacingAndGlyphs">Sudanian</text>
<text transform="translate(361.0 78.1) rotate(-62.5) skewX(-9)" class="zi" x="-30.2" y="2.3" textLength="60.4" lengthAdjust="spacingAndGlyphs">Sudano-Sahelian</text>
</g>
<g>
<path d="M44.7 380.2L49.3 376.7L51.1 372.0L52.3 364.9L50.5 357.9L47.6 355.8L51.7 355.0L56.4 352.0L63.4 350.3L68.0 349.7L70.6 348.0L75.0 347.4L77.1 350.9L77.1 354.4L74.5 357.3L76.2 359.3L79.7 358.5L82.6 353.2L87.9 351.5L91.4 353.8L94.9 357.9L97.2 359.1L99.4 357.3L103.0 357.7L108.5 360.6L107.4 363.1L110.0 364.6L111.1 366.4L114.0 365.7L117.6 363.5L122.0 364.6L124.2 365.7L124.6 368.5L124.6 374.1L123.5 373.4L119.1 370.8L114.3 369.3L113.2 370.4L110.7 374.5L105.9 376.3L101.9 380.2L98.4 386.0L96.5 390.3L94.9 390.7L92.6 392.4L87.3 389.5L82.0 391.3L78.5 390.1L76.8 387.2L73.9 386.6L69.2 389.5L65.1 386.0L59.9 386.0L53.4 387.8L48.8 382.5L44.7 380.2Z" fill="#fee2d5" stroke="#fee2d5" stroke-width="0.4" stroke-linejoin="round"/>
<path d="M92.3 417.0L88.8 419.0L85.3 419.9L81.3 422.5L80.9 425.7L78.5 426.3L73.9 423.4L68.0 422.8L65.1 418.7L61.6 416.4L60.4 412.9L57.5 409.4L55.8 405.3L52.3 404.7L47.0 403.5L44.1 399.4L45.3 393.0L45.8 385.4L44.7 380.2L48.8 382.5L53.4 387.8L59.9 386.0L65.1 386.0L69.2 389.5L73.9 386.6L76.8 387.2L78.5 390.1L82.0 391.3L87.3 389.5L92.6 392.4L94.9 390.7L96.5 390.3L98.8 393.1L98.4 398.8L96.6 401.9L97.5 405.4L95.3 408.9L89.6 411.1L90.9 413.7L92.3 417.0Z" fill="#fee0d2" stroke="#fee0d2" stroke-width="0.4" stroke-linejoin="round"/>
<path d="M128.6 382.2L124.7 382.2L123.8 385.3L122.0 389.6L121.2 394.0L122.9 398.4L125.5 401.0L123.8 403.6L126.4 406.3L126.0 415.0L127.3 419.4L126.0 422.9L126.4 426.4L128.6 429.5L128.2 430.8L126.0 432.6L123.8 430.8L121.6 427.3L120.3 423.8L117.7 421.6L115.0 418.5L113.3 416.3L110.7 418.1L108.0 416.8L102.8 415.9L97.5 415.5L92.3 417.0L90.9 413.7L89.6 411.1L95.3 408.9L97.5 405.4L96.6 401.9L98.4 398.8L98.8 393.1L96.5 390.3L98.4 386.0L101.9 380.2L105.9 376.3L110.7 374.5L113.2 370.4L114.3 369.3L119.1 370.8L123.5 373.4L124.6 374.1L125.3 377.0L127.8 375.2L130.8 378.5L128.6 382.2Z" fill="#fee1d4" stroke="#fee1d4" stroke-width="0.4" stroke-linejoin="round"/>
<path d="M70.6 348.0L71.5 345.0L76.8 339.2L78.0 332.8L74.5 330.4L75.0 328.1L80.6 327.5L82.6 320.5L79.1 314.2L86.7 306.0L90.2 303.1L91.4 305.4L96.0 307.8L104.2 313.3L106.5 310.1L111.8 308.9L110.6 302.5L111.8 296.1L115.9 296.7L119.4 297.8L122.3 297.3L125.2 301.4L129.3 303.7L129.9 307.2L135.7 309.5L132.8 314.8L128.1 316.5L128.0 322.8L126.4 329.9L122.3 340.9L125.3 345.0L121.2 348.5L123.5 351.0L123.8 353.6L121.6 356.6L126.4 358.4L127.8 361.7L130.0 366.4L133.3 369.0L132.2 371.2L125.5 371.0L124.6 368.5L124.2 365.7L122.0 364.6L117.6 363.5L114.0 365.7L111.1 366.4L110.0 364.6L107.4 363.1L108.5 360.6L103.0 357.7L99.4 357.3L97.2 359.1L94.9 357.9L91.4 353.8L87.9 351.5L82.6 353.2L79.7 358.5L76.2 359.3L74.5 357.3L77.1 354.4L77.1 350.9L75.0 347.4L70.6 348.0Z" fill="#fed9c9" stroke="#fed9c9" stroke-width="0.4" stroke-linejoin="round"/>
<path d="M122.3 297.3L122.9 291.0L124.6 285.0L130.5 280.1L135.2 277.2L141.6 278.9L146.9 282.1L151.5 287.1L153.9 292.4L156.8 294.7L152.1 298.2L153.3 305.2L155.0 310.0L157.4 314.7L160.9 317.6L163.2 321.5L153.5 321.7L151.5 323.4L149.4 328.1L139.9 329.3L134.6 328.7L133.4 323.4L131.7 324.0L128.0 322.8L128.1 316.5L132.8 314.8L135.7 309.5L129.9 307.2L129.3 303.7L125.2 301.4L122.3 297.3Z" fill="#fed9c9" stroke="#fed9c9" stroke-width="0.4" stroke-linejoin="round"/>
<path d="M146.9 282.1L149.2 278.4L149.8 271.9L158.0 271.4L170.2 263.2L176.1 261.4L187.7 252.7L194.7 252.4L197.1 254.4L200.0 253.1L204.7 253.6L209.3 255.6L215.2 255.6L215.8 260.8L213.4 269.6L215.2 273.1L220.4 278.4L219.9 283.0L221.6 287.7L224.0 290.5L227.2 295.5L231.1 296.8L237.2 300.8L241.3 304.4L246.5 306.6L245.3 308.2L241.3 306.6L238.8 305.6L238.4 316.2L227.5 319.7L225.0 317.2L220.9 313.1L215.8 309.5L211.7 304.4L209.6 300.3L205.5 300.8L202.0 299.3L197.9 298.3L195.3 295.2L192.8 290.6L189.2 287.6L184.1 290.1L180.0 291.3L176.1 293.5L170.2 294.9L165.0 294.1L162.0 290.3L158.5 290.6L156.8 294.7L153.9 292.4L151.5 287.1L146.9 282.1Z" fill="#fdccb8" stroke="#fdccb8" stroke-width="0.4" stroke-linejoin="round"/>
<path d="M156.8 294.7L158.5 290.6L162.0 290.3L165.0 294.1L170.2 294.9L176.1 293.5L180.0 291.3L184.1 290.1L189.2 287.6L192.8 290.6L195.3 295.2L197.9 298.3L202.0 299.3L199.9 304.4L198.9 311.6L196.9 317.7L198.4 321.8L201.5 325.9L201.9 332.8L192.6 335.1L189.9 333.8L188.7 328.5L186.2 328.4L184.7 331.6L181.7 332.4L177.7 328.3L174.4 329.4L173.9 325.2L163.2 321.5L160.9 317.6L157.4 314.7L155.0 310.0L153.3 305.2L152.1 298.2L156.8 294.7Z" fill="#fed9c9" stroke="#fed9c9" stroke-width="0.4" stroke-linejoin="round"/>
<path d="M238.4 316.2L242.0 318.8L254.9 329.9L263.6 330.4L266.6 327.5L272.4 327.5L276.5 335.1L270.7 338.6L280.0 353.5L277.5 359.5L270.1 367.8L268.4 368.0L256.7 369.2L254.4 367.4L250.3 367.4L247.4 371.5L242.1 376.2L240.9 380.9L238.6 379.1L235.1 381.5L225.2 382.6L223.4 384.4L222.0 381.0L224.0 377.5L225.7 370.8L224.0 360.6L216.5 357.5L210.2 358.0L209.2 356.0L204.8 352.7L204.6 348.6L208.3 345.7L202.9 340.9L204.1 338.0L201.9 332.8L201.5 325.9L198.4 321.8L196.9 317.7L198.9 311.6L199.9 304.4L202.0 299.3L205.5 300.8L209.6 300.3L211.7 304.4L215.8 309.5L220.9 313.1L225.0 317.2L227.5 319.7L238.4 316.2Z" fill="#fdd4c2" stroke="#fdd4c2" stroke-width="0.4" stroke-linejoin="round"/>
<path d="M222.0 381.0L214.9 380.3L206.7 378.5L200.3 376.8L197.4 379.1L192.1 382.6L190.6 385.0L188.0 380.9L185.7 376.2L187.4 371.5L191.5 368.6L192.1 366.3L188.0 365.1L183.2 361.8L181.6 358.3L182.9 354.8L187.7 353.9L191.7 350.4L195.6 348.7L196.1 344.3L193.4 339.0L192.6 335.1L201.9 332.8L204.1 338.0L202.9 340.9L208.3 345.7L204.6 348.6L204.8 352.7L209.2 356.0L210.2 358.0L216.5 357.5L224.0 360.6L225.7 370.8L224.0 377.5L222.0 381.0Z" fill="#fedccd" stroke="#fedccd" stroke-width="0.4" stroke-linejoin="round"/>
<path d="M190.6 385.0L188.6 382.6L166.6 382.3L163.1 378.6L159.6 375.1L162.5 371.0L169.5 364.6L164.5 360.0L158.4 355.2L154.0 351.3L150.5 352.6L147.4 350.0L149.6 348.2L150.9 346.0L154.5 345.2L155.3 346.9L158.8 348.2L161.9 344.7L164.1 343.8L166.3 346.5L168.9 346.0L173.7 345.6L177.2 344.5L178.5 347.8L181.2 351.7L182.9 354.8L181.6 358.3L183.2 361.8L188.0 365.1L192.1 366.3L191.5 368.6L187.4 371.5L185.7 376.2L188.0 380.9L190.6 385.0Z" fill="#fedecf" stroke="#fedecf" stroke-width="0.4" stroke-linejoin="round"/>
<path d="M166.6 382.3L128.6 382.2L130.8 378.5L127.8 375.2L125.3 377.0L124.6 374.1L124.6 368.5L125.5 371.0L132.2 371.2L133.3 369.0L130.0 366.4L127.8 361.7L126.4 358.4L121.6 356.6L123.8 353.6L123.5 351.0L121.2 348.5L125.3 345.0L122.3 340.9L126.4 329.9L128.0 322.8L131.7 324.0L133.4 323.4L134.6 328.7L139.9 329.3L149.4 328.1L153.1 331.1L155.3 334.8L148.8 336.0L146.6 339.5L148.3 340.8L151.4 339.0L155.3 338.6L154.5 341.6L154.5 345.2L150.9 346.0L149.6 348.2L147.4 350.0L150.5 352.6L154.0 351.3L158.4 355.2L164.5 360.0L169.5 364.6L162.5 371.0L159.6 375.1L163.1 378.6L166.6 382.3Z" fill="#fedecf" stroke="#fedecf" stroke-width="0.4" stroke-linejoin="round"/>
<path d="M149.4 328.1L151.5 323.4L153.5 321.7L163.2 321.5L173.9 325.2L174.4 329.4L177.7 328.3L181.7 332.4L184.7 331.6L186.2 328.4L188.7 328.5L189.9 333.8L192.6 335.1L193.4 339.0L196.1 344.3L195.6 348.7L191.7 350.4L187.7 353.9L182.9 354.8L181.2 351.7L178.5 347.8L177.2 344.5L175.0 341.2L171.1 337.7L170.2 334.2L166.3 335.1L164.1 332.5L161.5 331.1L160.6 328.9L157.5 332.0L155.3 334.8L153.1 331.1L149.4 328.1Z" fill="#fedccd" stroke="#fedccd" stroke-width="0.4" stroke-linejoin="round"/>
<path d="M155.3 334.8L157.5 332.0L160.6 328.9L161.5 331.1L164.1 332.5L166.3 335.1L170.2 334.2L171.1 337.7L175.0 341.2L177.2 344.5L173.7 345.6L168.9 346.0L166.3 346.5L164.1 343.8L161.9 344.7L158.8 348.2L155.3 346.9L154.5 345.2L154.5 341.6L155.3 338.6L151.4 339.0L148.3 340.8L146.6 339.5L148.8 336.0L155.3 334.8Z" fill="#fedfd0" stroke="#fedfd0" stroke-width="0.4" stroke-linejoin="round"/>
<path d="M70.6 348.0L71.5 345.0L76.8 339.2L78.0 332.8L74.5 330.4L75.0 328.1L80.6 327.5L82.6 320.5L79.1 314.2L86.7 306.0L90.2 303.1L91.4 305.4L96.0 307.8L104.2 313.3L106.5 310.1L111.8 308.9L110.6 302.5L111.8 296.1L115.9 296.7L119.4 297.8L122.3 297.3M122.3 297.3L122.9 291.0L124.6 285.0L130.5 280.1L135.2 277.2L141.6 278.9L146.9 282.1M146.9 282.1L149.2 278.4L149.8 271.9L158.0 271.4L170.2 263.2L176.1 261.4L187.7 252.7L194.7 252.4L197.1 254.4L200.0 253.1L204.7 253.6L209.3 255.6L215.2 255.6L215.8 260.8L213.4 269.6L215.2 273.1L220.4 278.4L219.9 283.0L221.6 287.7L224.0 290.5L227.2 295.5L231.1 296.8L237.2 300.8L241.3 304.4L246.5 306.6L245.3 308.2L241.3 306.6L238.8 305.6L238.4 316.2M238.4 316.2L242.0 318.8L254.9 329.9L263.6 330.4L266.6 327.5L272.4 327.5L276.5 335.1L270.7 338.6L280.0 353.5L277.5 359.5L270.1 367.8L268.4 368.0L256.7 369.2L254.4 367.4L250.3 367.4L247.4 371.5L242.1 376.2L240.9 380.9L238.6 379.1L235.1 381.5L225.2 382.6L223.4 384.4L222.0 381.0M222.0 381.0L214.9 380.3L206.7 378.5L200.3 376.8L197.4 379.1L192.1 382.6L190.6 385.0M128.6 382.2L124.7 382.2L123.8 385.3L122.0 389.6L121.2 394.0L122.9 398.4L125.5 401.0L123.8 403.6L126.4 406.3L126.0 415.0L127.3 419.4L126.0 422.9L126.4 426.4L128.6 429.5L128.2 430.8L126.0 432.6L123.8 430.8L121.6 427.3L120.3 423.8L117.7 421.6L115.0 418.5L113.3 416.3L110.7 418.1L108.0 416.8L102.8 415.9L97.5 415.5L92.3 417.0M92.3 417.0L88.8 419.0L85.3 419.9L81.3 422.5L80.9 425.7L78.5 426.3L73.9 423.4L68.0 422.8L65.1 418.7L61.6 416.4L60.4 412.9L57.5 409.4L55.8 405.3L52.3 404.7L47.0 403.5L44.1 399.4L45.3 393.0L45.8 385.4L44.7 380.2M44.7 380.2L49.3 376.7L51.1 372.0L52.3 364.9L50.5 357.9L47.6 355.8L51.7 355.0L56.4 352.0L63.4 350.3L68.0 349.7L70.6 348.0M70.6 348.0L75.0 347.4L77.1 350.9L77.1 354.4L74.5 357.3L76.2 359.3L79.7 358.5L82.6 353.2L87.9 351.5L91.4 353.8L94.9 357.9L97.2 359.1L99.4 357.3L103.0 357.7L108.5 360.6L107.4 363.1L110.0 364.6L111.1 366.4L114.0 365.7L117.6 363.5L122.0 364.6L124.2 365.7L124.6 368.5M122.3 297.3L125.2 301.4L129.3 303.7L129.9 307.2L135.7 309.5L132.8 314.8L128.1 316.5L128.0 322.8M128.0 322.8L126.4 329.9L122.3 340.9L125.3 345.0L121.2 348.5L123.5 351.0L123.8 353.6L121.6 356.6L126.4 358.4L127.8 361.7L130.0 366.4L133.3 369.0L132.2 371.2L125.5 371.0L124.6 368.5M146.9 282.1L151.5 287.1L153.9 292.4L156.8 294.7M156.8 294.7L158.5 290.6L162.0 290.3L165.0 294.1L170.2 294.9L176.1 293.5L180.0 291.3L184.1 290.1L189.2 287.6L192.8 290.6L195.3 295.2L197.9 298.3L202.0 299.3M202.0 299.3L205.5 300.8L209.6 300.3L211.7 304.4L215.8 309.5L220.9 313.1L225.0 317.2L227.5 319.7L238.4 316.2M156.8 294.7L152.1 298.2L153.3 305.2L155.0 310.0L157.4 314.7L160.9 317.6L163.2 321.5M128.0 322.8L131.7 324.0L133.4 323.4L134.6 328.7L139.9 329.3L149.4 328.1M149.4 328.1L151.5 323.4L153.5 321.7L163.2 321.5M163.2 321.5L173.9 325.2L174.4 329.4L177.7 328.3L181.7 332.4L184.7 331.6L186.2 328.4L188.7 328.5L189.9 333.8L192.6 335.1M192.6 335.1L201.9 332.8M202.0 299.3L199.9 304.4L198.9 311.6L196.9 317.7L198.4 321.8L201.5 325.9L201.9 332.8M201.9 332.8L204.1 338.0L202.9 340.9L208.3 345.7L204.6 348.6L204.8 352.7L209.2 356.0L210.2 358.0L216.5 357.5L224.0 360.6L225.7 370.8L224.0 377.5L222.0 381.0M149.4 328.1L153.1 331.1L155.3 334.8M155.3 334.8L157.5 332.0L160.6 328.9L161.5 331.1L164.1 332.5L166.3 335.1L170.2 334.2L171.1 337.7L175.0 341.2L177.2 344.5M177.2 344.5L173.7 345.6L168.9 346.0L166.3 346.5L164.1 343.8L161.9 344.7L158.8 348.2L155.3 346.9L154.5 345.2M154.5 345.2L154.5 341.6L155.3 338.6L151.4 339.0L148.3 340.8L146.6 339.5L148.8 336.0L155.3 334.8M177.2 344.5L178.5 347.8L181.2 351.7L182.9 354.8M192.6 335.1L193.4 339.0L196.1 344.3L195.6 348.7L191.7 350.4L187.7 353.9L182.9 354.8M182.9 354.8L181.6 358.3L183.2 361.8L188.0 365.1L192.1 366.3L191.5 368.6L187.4 371.5L185.7 376.2L188.0 380.9L190.6 385.0M154.5 345.2L150.9 346.0L149.6 348.2L147.4 350.0L150.5 352.6L154.0 351.3L158.4 355.2L164.5 360.0L169.5 364.6L162.5 371.0L159.6 375.1L163.1 378.6L166.6 382.3M124.6 368.5L124.6 374.1M96.5 390.3L98.4 386.0L101.9 380.2L105.9 376.3L110.7 374.5L113.2 370.4L114.3 369.3L119.1 370.8L123.5 373.4L124.6 374.1M124.6 374.1L125.3 377.0L127.8 375.2L130.8 378.5L128.6 382.2M44.7 380.2L48.8 382.5L53.4 387.8L59.9 386.0L65.1 386.0L69.2 389.5L73.9 386.6L76.8 387.2L78.5 390.1L82.0 391.3L87.3 389.5L92.6 392.4L94.9 390.7L96.5 390.3M96.5 390.3L98.8 393.1L98.4 398.8L96.6 401.9L97.5 405.4L95.3 408.9L89.6 411.1L90.9 413.7L92.3 417.0" fill="none" stroke="#161616" stroke-width="0.62" stroke-linejoin="round" stroke-linecap="round"/>
<path d="M190.6 385.0L188.6 382.6" fill="none" stroke="#161616" stroke-width="0.62" stroke-linecap="round"/>
<path d="M188.6 382.6L166.6 382.3M166.6 382.3L128.6 382.2" fill="none" stroke="#000" stroke-opacity="0.33" stroke-width="0.55"/>
<path d="M104.8 312.9L120.0 315.3L143.4 319.3L166.7 322.8L180.0 324.3L190.2 325.9L200.4 326.1L210.7 324.9L220.9 322.3L227.5 319.7L238.2 316.2" fill="none" stroke="#111" stroke-width="1.05" stroke-dasharray="3.4 1.5"/>
<path d="M62.8 350.3L65.1 356.7L69.2 363.7L75.0 368.4L82.0 370.7L92.6 371.3L100.0 371.0L111.7 368.7L123.4 368.1L130.4 370.4L135.0 373.9L146.7 375.1L158.4 374.8L171.7 373.3L179.9 370.4L188.0 365.1L195.0 366.9L202.0 371.5L209.1 376.2L214.9 377.4L221.9 375.0L225.2 371.5L233.4 365.1L240.4 361.0L245.0 359.9L250.9 361.6L256.1 366.3" fill="none" stroke="#111" stroke-width="1.00" stroke-dasharray="3.4 1.5"/>
<path d="M238.2 316.2l-3.2 1.1" fill="none" stroke="#111" stroke-width="1.8"/>
<rect x="32.5" y="243.7" width="259.3" height="197.7" fill="none" stroke="#8c8c8c" stroke-width="0.7"/>
<path d="M32.5 413.7h-2" stroke="#444" stroke-width="0.5"/>
<text x="29.3" y="416.7" class="tk" text-anchor="end">10</text>
<path d="M32.5 382.0h-2" stroke="#444" stroke-width="0.5"/>
<text x="29.3" y="385.0" class="tk" text-anchor="end">11</text>
<path d="M32.5 350.4h-2" stroke="#444" stroke-width="0.5"/>
<text x="29.3" y="353.4" class="tk" text-anchor="end">12</text>
<path d="M32.5 318.7h-2" stroke="#444" stroke-width="0.5"/>
<text x="29.3" y="321.7" class="tk" text-anchor="end">13</text>
<path d="M32.5 287.1h-2" stroke="#444" stroke-width="0.5"/>
<text x="29.3" y="290.1" class="tk" text-anchor="end">14</text>
<path d="M32.5 255.4h-2" stroke="#444" stroke-width="0.5"/>
<text x="29.3" y="258.4" class="tk" text-anchor="end">15</text>
<path d="M59.4 441.4v2" stroke="#444" stroke-width="0.5"/>
<text x="59.4" y="450.0" class="tk" text-anchor="middle">−5</text>
<path d="M89.2 441.4v2" stroke="#444" stroke-width="0.5"/>
<text x="89.2" y="450.0" class="tk" text-anchor="middle">−4</text>
<path d="M119.1 441.4v2" stroke="#444" stroke-width="0.5"/>
<text x="119.1" y="450.0" class="tk" text-anchor="middle">−3</text>
<path d="M148.9 441.4v2" stroke="#444" stroke-width="0.5"/>
<text x="148.9" y="450.0" class="tk" text-anchor="middle">−2</text>
<path d="M178.8 441.4v2" stroke="#444" stroke-width="0.5"/>
<text x="178.8" y="450.0" class="tk" text-anchor="middle">−1</text>
<path d="M208.6 441.4v2" stroke="#444" stroke-width="0.5"/>
<text x="208.6" y="450.0" class="tk" text-anchor="middle">0</text>
<path d="M238.4 441.4v2" stroke="#444" stroke-width="0.5"/>
<text x="238.4" y="450.0" class="tk" text-anchor="middle">1</text>
<path d="M268.3 441.4v2" stroke="#444" stroke-width="0.5"/>
<text x="268.3" y="450.0" class="tk" text-anchor="middle">2</text>
<text x="224.0" y="286.8" class="zn" textLength="29.9" lengthAdjust="spacingAndGlyphs">Sahelian</text>
<text x="147.3" y="404.8" class="zn" textLength="33.2" lengthAdjust="spacingAndGlyphs">Sudanian</text>
<text transform="translate(62.7 312.2) rotate(-62.7) skewX(-9)" class="zi" x="-30.2" y="2.3" textLength="60.4" lengthAdjust="spacingAndGlyphs">Sudano-Sahelian</text>
</g>
<g>
<path d="M336.6 380.5L341.5 377.0L343.4 372.3L344.6 365.1L342.7 358.0L339.7 355.9L344.0 355.1L348.9 352.0L356.3 350.3L361.2 349.7L363.9 348.0L368.5 347.4L370.7 350.9L370.7 354.5L368.0 357.4L369.8 359.4L373.5 358.6L376.5 353.3L382.1 351.5L385.8 353.9L389.5 358.0L391.9 359.2L394.2 357.4L398.0 357.8L403.8 360.7L402.7 363.3L405.4 364.8L406.6 366.6L409.6 365.9L413.4 363.7L418.0 364.8L420.4 365.9L420.8 368.7L420.8 374.4L419.6 373.7L415.0 371.0L409.9 369.5L408.8 370.6L406.1 374.8L401.1 376.6L396.9 380.5L393.2 386.4L391.2 390.7L389.5 391.2L387.1 392.9L381.5 389.9L375.9 391.8L372.2 390.5L370.4 387.6L367.4 387.0L362.4 389.9L358.1 386.4L352.6 386.4L345.8 388.2L340.9 382.9L336.6 380.5Z" fill="#fb7353" stroke="#fb7353" stroke-width="0.4" stroke-linejoin="round"/>
<path d="M386.8 417.7L383.1 419.8L379.4 420.7L375.2 423.3L374.7 426.5L372.2 427.1L367.4 424.2L361.2 423.6L358.1 419.5L354.4 417.1L353.2 413.6L350.1 410.1L348.3 405.9L344.6 405.3L339.0 404.1L336.0 399.9L337.2 393.5L337.8 385.8L336.6 380.5L340.9 382.9L345.8 388.2L352.6 386.4L358.1 386.4L362.4 389.9L367.4 387.0L370.4 387.6L372.2 390.5L375.9 391.8L381.5 389.9L387.1 392.9L389.5 391.2L391.2 390.7L393.6 393.6L393.2 399.3L391.3 402.5L392.2 406.0L389.9 409.5L383.9 411.8L385.3 414.4L386.8 417.7Z" fill="#fb694a" stroke="#fb694a" stroke-width="0.4" stroke-linejoin="round"/>
<path d="M425.0 382.6L420.9 382.6L419.9 385.7L418.0 390.0L417.2 394.5L419.0 398.9L421.7 401.6L419.9 404.2L422.7 406.9L422.2 415.7L423.6 420.2L422.2 423.7L422.7 427.2L425.0 430.4L424.6 431.7L422.2 433.5L419.9 431.7L417.6 428.1L416.2 424.6L413.5 422.4L410.7 419.3L408.9 417.0L406.1 418.8L403.3 417.5L397.8 416.6L392.2 416.2L386.8 417.7L385.3 414.4L383.9 411.8L389.9 409.5L392.2 406.0L391.3 402.5L393.2 399.3L393.6 393.6L391.2 390.7L393.2 386.4L396.9 380.5L401.1 376.6L406.1 374.8L408.8 370.6L409.9 369.5L415.0 371.0L419.6 373.7L420.8 374.4L421.5 377.3L424.1 375.5L427.3 378.8L425.0 382.6Z" fill="#fb6d4d" stroke="#fb6d4d" stroke-width="0.4" stroke-linejoin="round"/>
<path d="M363.9 348.0L364.8 345.0L370.4 339.1L371.7 332.6L368.0 330.2L368.5 327.9L374.4 327.3L376.5 320.2L372.8 313.8L380.9 305.5L384.5 302.6L385.8 304.9L390.7 307.4L399.3 312.9L401.7 309.7L407.3 308.5L406.0 302.0L407.3 295.5L411.6 296.1L415.3 297.3L418.4 296.7L421.4 300.9L425.7 303.2L426.4 306.8L432.5 309.1L429.4 314.4L424.5 316.2L424.4 322.5L422.7 329.7L418.4 340.8L421.5 345.0L417.2 348.5L419.6 351.0L419.9 353.7L417.6 356.7L422.7 358.5L424.1 361.8L426.5 366.6L429.9 369.2L428.8 371.4L421.7 371.2L420.8 368.7L420.4 365.9L418.0 364.8L413.4 363.7L409.6 365.9L406.6 366.6L405.4 364.8L402.7 363.3L403.8 360.7L398.0 357.8L394.2 357.4L391.9 359.2L389.5 358.0L385.8 353.9L382.1 351.5L376.5 353.3L373.5 358.6L369.8 359.4L368.0 357.4L370.7 354.5L370.7 350.9L368.5 347.4L363.9 348.0Z" fill="#f6583e" stroke="#f6583e" stroke-width="0.4" stroke-linejoin="round"/>
<path d="M418.4 296.7L419.0 290.4L420.8 284.3L427.0 279.4L431.9 276.4L438.7 278.2L444.3 281.4L449.1 286.4L451.6 291.8L454.7 294.1L449.7 297.7L451.0 304.7L452.8 309.6L455.3 314.3L459.0 317.3L461.4 321.2L451.2 321.4L449.1 323.1L446.9 327.9L436.9 329.1L431.3 328.5L430.0 323.1L428.3 323.7L424.4 322.5L424.5 316.2L429.4 314.4L432.5 309.1L426.4 306.8L425.7 303.2L421.4 300.9L418.4 296.7Z" fill="#f6583e" stroke="#f6583e" stroke-width="0.4" stroke-linejoin="round"/>
<path d="M444.3 281.4L446.7 277.6L447.3 271.1L456.0 270.6L468.8 262.3L475.0 260.5L487.2 251.7L494.6 251.4L497.1 253.4L500.2 252.1L505.1 252.6L510.0 254.6L516.2 254.6L516.8 259.9L514.3 268.8L516.2 272.3L521.7 277.6L521.2 282.3L522.9 287.0L525.5 289.9L528.8 294.9L532.9 296.2L539.4 300.3L543.7 303.9L549.2 306.1L547.9 307.8L543.7 306.1L541.1 305.1L540.6 315.9L529.2 319.4L526.5 316.9L522.2 312.7L516.8 309.1L512.5 303.9L510.3 299.8L506.0 300.3L502.3 298.8L498.0 297.8L495.2 294.6L492.6 290.0L488.8 286.9L483.4 289.5L479.1 290.7L475.0 292.9L468.8 294.3L463.3 293.5L460.2 289.7L456.5 290.0L454.7 294.1L451.6 291.8L449.1 286.4L444.3 281.4Z" fill="#f0402f" stroke="#f0402f" stroke-width="0.4" stroke-linejoin="round"/>
<path d="M454.7 294.1L456.5 290.0L460.2 289.7L463.3 293.5L468.8 294.3L475.0 292.9L479.1 290.7L483.4 289.5L488.8 286.9L492.6 290.0L495.2 294.6L498.0 297.8L502.3 298.8L500.1 303.9L499.0 311.2L496.9 317.4L498.5 321.5L501.8 325.7L502.2 332.6L492.4 335.0L489.6 333.6L488.3 328.3L485.7 328.2L484.1 331.4L480.9 332.2L476.7 328.1L473.2 329.2L472.7 324.9L461.4 321.2L459.0 317.3L455.3 314.3L452.8 309.6L451.0 304.7L449.7 297.7L454.7 294.1Z" fill="#f6583e" stroke="#f6583e" stroke-width="0.4" stroke-linejoin="round"/>
<path d="M540.6 315.9L544.4 318.5L558.0 329.7L567.2 330.2L570.3 327.3L576.4 327.3L580.8 335.0L574.7 338.5L584.5 353.6L581.8 359.6L574.0 368.0L572.2 368.2L559.9 369.4L557.5 367.6L553.2 367.6L550.1 371.7L544.5 376.5L543.3 381.2L540.8 379.4L537.2 381.9L526.7 383.0L524.8 384.8L523.4 381.3L525.5 377.8L527.3 371.0L525.5 360.7L517.6 357.6L510.9 358.1L509.9 356.1L505.2 352.7L505.0 348.6L508.9 345.7L503.2 340.8L504.5 337.9L502.2 332.6L501.8 325.7L498.5 321.5L496.9 317.4L499.0 311.2L500.1 303.9L502.3 298.8L506.0 300.3L510.3 299.8L512.5 303.9L516.8 309.1L522.2 312.7L526.5 316.9L529.2 319.4L540.6 315.9Z" fill="#f4503a" stroke="#f4503a" stroke-width="0.4" stroke-linejoin="round"/>
<path d="M523.4 381.3L515.9 380.6L507.2 378.8L500.5 377.1L497.5 379.4L491.9 383.0L490.3 385.4L487.6 381.2L485.1 376.5L486.9 371.7L491.2 368.8L491.9 366.5L487.6 365.3L482.5 361.9L480.8 358.4L482.2 354.9L487.2 354.0L491.4 350.4L495.6 348.7L496.1 344.3L493.2 338.9L492.4 335.0L502.2 332.6L504.5 337.9L503.2 340.8L508.9 345.7L505.0 348.6L505.2 352.7L509.9 356.1L510.9 358.1L517.6 357.6L525.5 360.7L527.3 371.0L525.5 377.8L523.4 381.3Z" fill="#f75b40" stroke="#f75b40" stroke-width="0.4" stroke-linejoin="round"/>
<path d="M490.3 385.4L488.2 383.0L465.0 382.7L461.3 378.9L457.6 375.4L460.7 371.2L468.1 364.8L462.8 360.1L456.4 355.3L451.7 351.3L448.1 352.6L444.8 350.0L447.1 348.2L448.5 346.0L452.3 345.2L453.1 346.9L456.8 348.2L460.1 344.7L462.4 343.7L464.7 346.5L467.4 346.0L472.5 345.6L476.2 344.5L477.5 347.8L480.4 351.7L482.2 354.9L480.8 358.4L482.5 361.9L487.6 365.3L491.9 366.5L491.2 368.8L486.9 371.7L485.1 376.5L487.6 381.2L490.3 385.4Z" fill="#f85f43" stroke="#f85f43" stroke-width="0.4" stroke-linejoin="round"/>
<path d="M465.0 382.7L425.0 382.6L427.3 378.8L424.1 375.5L421.5 377.3L420.8 374.4L420.8 368.7L421.7 371.2L428.8 371.4L429.9 369.2L426.5 366.6L424.1 361.8L422.7 358.5L417.6 356.7L419.9 353.7L419.6 351.0L417.2 348.5L421.5 345.0L418.4 340.8L422.7 329.7L424.4 322.5L428.3 323.7L430.0 323.1L431.3 328.5L436.9 329.1L446.9 327.9L450.8 330.9L453.1 334.7L446.3 335.9L443.9 339.4L445.7 340.7L449.0 338.9L453.1 338.5L452.3 341.5L452.3 345.2L448.5 346.0L447.1 348.2L444.8 350.0L448.1 352.6L451.7 351.3L456.4 355.3L462.8 360.1L468.1 364.8L460.7 371.2L457.6 375.4L461.3 378.9L465.0 382.7Z" fill="#f85f43" stroke="#f85f43" stroke-width="0.4" stroke-linejoin="round"/>
<path d="M446.9 327.9L449.1 323.1L451.2 321.4L461.4 321.2L472.7 324.9L473.2 329.2L476.7 328.1L480.9 332.2L484.1 331.4L485.7 328.2L488.3 328.3L489.6 333.6L492.4 335.0L493.2 338.9L496.1 344.3L495.6 348.7L491.4 350.4L487.2 354.0L482.2 354.9L480.4 351.7L477.5 347.8L476.2 344.5L473.9 341.1L469.8 337.6L468.8 334.0L464.7 335.0L462.4 332.3L459.6 330.9L458.7 328.7L455.4 331.8L453.1 334.7L450.8 330.9L446.9 327.9Z" fill="#f75b40" stroke="#f75b40" stroke-width="0.4" stroke-linejoin="round"/>
<path d="M453.1 334.7L455.4 331.8L458.7 328.7L459.6 330.9L462.4 332.3L464.7 335.0L468.8 334.0L469.8 337.6L473.9 341.1L476.2 344.5L472.5 345.6L467.4 346.0L464.7 346.5L462.4 343.7L460.1 344.7L456.8 348.2L453.1 346.9L452.3 345.2L452.3 341.5L453.1 338.5L449.0 338.9L445.7 340.7L443.9 339.4L446.3 335.9L453.1 334.7Z" fill="#f96044" stroke="#f96044" stroke-width="0.4" stroke-linejoin="round"/>
<path d="M363.9 348.0L364.8 345.0L370.4 339.1L371.7 332.6L368.0 330.2L368.5 327.9L374.4 327.3L376.5 320.2L372.8 313.8L380.9 305.5L384.5 302.6L385.8 304.9L390.7 307.4L399.3 312.9L401.7 309.7L407.3 308.5L406.0 302.0L407.3 295.5L411.6 296.1L415.3 297.3L418.4 296.7M418.4 296.7L419.0 290.4L420.8 284.3L427.0 279.4L431.9 276.4L438.7 278.2L444.3 281.4M444.3 281.4L446.7 277.6L447.3 271.1L456.0 270.6L468.8 262.3L475.0 260.5L487.2 251.7L494.6 251.4L497.1 253.4L500.2 252.1L505.1 252.6L510.0 254.6L516.2 254.6L516.8 259.9L514.3 268.8L516.2 272.3L521.7 277.6L521.2 282.3L522.9 287.0L525.5 289.9L528.8 294.9L532.9 296.2L539.4 300.3L543.7 303.9L549.2 306.1L547.9 307.8L543.7 306.1L541.1 305.1L540.6 315.9M540.6 315.9L544.4 318.5L558.0 329.7L567.2 330.2L570.3 327.3L576.4 327.3L580.8 335.0L574.7 338.5L584.5 353.6L581.8 359.6L574.0 368.0L572.2 368.2L559.9 369.4L557.5 367.6L553.2 367.6L550.1 371.7L544.5 376.5L543.3 381.2L540.8 379.4L537.2 381.9L526.7 383.0L524.8 384.8L523.4 381.3M523.4 381.3L515.9 380.6L507.2 378.8L500.5 377.1L497.5 379.4L491.9 383.0L490.3 385.4M425.0 382.6L420.9 382.6L419.9 385.7L418.0 390.0L417.2 394.5L419.0 398.9L421.7 401.6L419.9 404.2L422.7 406.9L422.2 415.7L423.6 420.2L422.2 423.7L422.7 427.2L425.0 430.4L424.6 431.7L422.2 433.5L419.9 431.7L417.6 428.1L416.2 424.6L413.5 422.4L410.7 419.3L408.9 417.0L406.1 418.8L403.3 417.5L397.8 416.6L392.2 416.2L386.8 417.7M386.8 417.7L383.1 419.8L379.4 420.7L375.2 423.3L374.7 426.5L372.2 427.1L367.4 424.2L361.2 423.6L358.1 419.5L354.4 417.1L353.2 413.6L350.1 410.1L348.3 405.9L344.6 405.3L339.0 404.1L336.0 399.9L337.2 393.5L337.8 385.8L336.6 380.5M336.6 380.5L341.5 377.0L343.4 372.3L344.6 365.1L342.7 358.0L339.7 355.9L344.0 355.1L348.9 352.0L356.3 350.3L361.2 349.7L363.9 348.0M363.9 348.0L368.5 347.4L370.7 350.9L370.7 354.5L368.0 357.4L369.8 359.4L373.5 358.6L376.5 353.3L382.1 351.5L385.8 353.9L389.5 358.0L391.9 359.2L394.2 357.4L398.0 357.8L403.8 360.7L402.7 363.3L405.4 364.8L406.6 366.6L409.6 365.9L413.4 363.7L418.0 364.8L420.4 365.9L420.8 368.7M418.4 296.7L421.4 300.9L425.7 303.2L426.4 306.8L432.5 309.1L429.4 314.4L424.5 316.2L424.4 322.5M424.4 322.5L422.7 329.7L418.4 340.8L421.5 345.0L417.2 348.5L419.6 351.0L419.9 353.7L417.6 356.7L422.7 358.5L424.1 361.8L426.5 366.6L429.9 369.2L428.8 371.4L421.7 371.2L420.8 368.7M444.3 281.4L449.1 286.4L451.6 291.8L454.7 294.1M454.7 294.1L456.5 290.0L460.2 289.7L463.3 293.5L468.8 294.3L475.0 292.9L479.1 290.7L483.4 289.5L488.8 286.9L492.6 290.0L495.2 294.6L498.0 297.8L502.3 298.8M502.3 298.8L506.0 300.3L510.3 299.8L512.5 303.9L516.8 309.1L522.2 312.7L526.5 316.9L529.2 319.4L540.6 315.9M454.7 294.1L449.7 297.7L451.0 304.7L452.8 309.6L455.3 314.3L459.0 317.3L461.4 321.2M424.4 322.5L428.3 323.7L430.0 323.1L431.3 328.5L436.9 329.1L446.9 327.9M446.9 327.9L449.1 323.1L451.2 321.4L461.4 321.2M461.4 321.2L472.7 324.9L473.2 329.2L476.7 328.1L480.9 332.2L484.1 331.4L485.7 328.2L488.3 328.3L489.6 333.6L492.4 335.0M492.4 335.0L502.2 332.6M502.3 298.8L500.1 303.9L499.0 311.2L496.9 317.4L498.5 321.5L501.8 325.7L502.2 332.6M502.2 332.6L504.5 337.9L503.2 340.8L508.9 345.7L505.0 348.6L505.2 352.7L509.9 356.1L510.9 358.1L517.6 357.6L525.5 360.7L527.3 371.0L525.5 377.8L523.4 381.3M446.9 327.9L450.8 330.9L453.1 334.7M453.1 334.7L455.4 331.8L458.7 328.7L459.6 330.9L462.4 332.3L464.7 335.0L468.8 334.0L469.8 337.6L473.9 341.1L476.2 344.5M476.2 344.5L472.5 345.6L467.4 346.0L464.7 346.5L462.4 343.7L460.1 344.7L456.8 348.2L453.1 346.9L452.3 345.2M452.3 345.2L452.3 341.5L453.1 338.5L449.0 338.9L445.7 340.7L443.9 339.4L446.3 335.9L453.1 334.7M476.2 344.5L477.5 347.8L480.4 351.7L482.2 354.9M492.4 335.0L493.2 338.9L496.1 344.3L495.6 348.7L491.4 350.4L487.2 354.0L482.2 354.9M482.2 354.9L480.8 358.4L482.5 361.9L487.6 365.3L491.9 366.5L491.2 368.8L486.9 371.7L485.1 376.5L487.6 381.2L490.3 385.4M452.3 345.2L448.5 346.0L447.1 348.2L444.8 350.0L448.1 352.6L451.7 351.3L456.4 355.3L462.8 360.1L468.1 364.8L460.7 371.2L457.6 375.4L461.3 378.9L465.0 382.7M420.8 368.7L420.8 374.4M391.2 390.7L393.2 386.4L396.9 380.5L401.1 376.6L406.1 374.8L408.8 370.6L409.9 369.5L415.0 371.0L419.6 373.7L420.8 374.4M420.8 374.4L421.5 377.3L424.1 375.5L427.3 378.8L425.0 382.6M336.6 380.5L340.9 382.9L345.8 388.2L352.6 386.4L358.1 386.4L362.4 389.9L367.4 387.0L370.4 387.6L372.2 390.5L375.9 391.8L381.5 389.9L387.1 392.9L389.5 391.2L391.2 390.7M391.2 390.7L393.6 393.6L393.2 399.3L391.3 402.5L392.2 406.0L389.9 409.5L383.9 411.8L385.3 414.4L386.8 417.7" fill="none" stroke="#161616" stroke-width="0.62" stroke-linejoin="round" stroke-linecap="round"/>
<path d="M490.3 385.4L488.2 383.0" fill="none" stroke="#161616" stroke-width="0.62" stroke-linecap="round"/>
<path d="M488.2 383.0L465.0 382.7M465.0 382.7L425.0 382.6" fill="none" stroke="#000" stroke-opacity="0.33" stroke-width="0.55"/>
<path d="M402.5 313.3L418.2 316.6L442.5 321.4L466.6 325.3L480.4 326.8L491.0 328.3L501.5 328.3L512.2 326.8L522.8 323.7L529.6 320.8L540.7 316.7" fill="none" stroke="#111" stroke-width="1.10" stroke-dasharray="3.4 1.5"/>
<path d="M360.4 350.2L362.8 356.7L367.0 363.7L373.0 368.4L380.3 370.6L391.3 371.1L398.9 370.7L411.1 368.2L423.2 367.5L430.4 369.7L435.2 373.2L447.3 374.3L459.5 373.8L473.2 372.2L481.7 369.1L490.1 363.7L497.4 365.4L504.6 370.0L512.0 374.7L518.0 375.8L525.3 373.5L528.7 369.9L537.2 363.6L544.4 359.5L549.2 358.4L555.3 360.2L560.7 365.0" fill="none" stroke="#111" stroke-width="1.00" stroke-dasharray="3.4 1.5"/>
<path d="M540.7 316.7l-3.2 1.1" fill="none" stroke="#111" stroke-width="1.8"/>
<rect x="323.3" y="243.3" width="274.4" height="199.1" fill="none" stroke="#a8a8a8" stroke-width="1.0"/>
<path d="M323.3 414.4h-2" stroke="#444" stroke-width="0.5"/>
<text x="320.1" y="417.4" class="tk" text-anchor="end">10</text>
<path d="M323.3 382.4h-2" stroke="#444" stroke-width="0.5"/>
<text x="320.1" y="385.4" class="tk" text-anchor="end">11</text>
<path d="M323.3 350.4h-2" stroke="#444" stroke-width="0.5"/>
<text x="320.1" y="353.4" class="tk" text-anchor="end">12</text>
<path d="M323.3 318.4h-2" stroke="#444" stroke-width="0.5"/>
<text x="320.1" y="321.4" class="tk" text-anchor="end">13</text>
<path d="M323.3 286.4h-2" stroke="#444" stroke-width="0.5"/>
<text x="320.1" y="289.4" class="tk" text-anchor="end">14</text>
<path d="M323.3 254.4h-2" stroke="#444" stroke-width="0.5"/>
<text x="320.1" y="257.4" class="tk" text-anchor="end">15</text>
<path d="M352.1 442.4v2" stroke="#444" stroke-width="0.5"/>
<text x="352.1" y="451.0" class="tk" text-anchor="middle">−5</text>
<path d="M383.5 442.4v2" stroke="#444" stroke-width="0.5"/>
<text x="383.5" y="451.0" class="tk" text-anchor="middle">−4</text>
<path d="M415.0 442.4v2" stroke="#444" stroke-width="0.5"/>
<text x="415.0" y="451.0" class="tk" text-anchor="middle">−3</text>
<path d="M446.4 442.4v2" stroke="#444" stroke-width="0.5"/>
<text x="446.4" y="451.0" class="tk" text-anchor="middle">−2</text>
<path d="M477.8 442.4v2" stroke="#444" stroke-width="0.5"/>
<text x="477.8" y="451.0" class="tk" text-anchor="middle">−1</text>
<path d="M509.2 442.4v2" stroke="#444" stroke-width="0.5"/>
<text x="509.2" y="451.0" class="tk" text-anchor="middle">0</text>
<path d="M540.7 442.4v2" stroke="#444" stroke-width="0.5"/>
<text x="540.7" y="451.0" class="tk" text-anchor="middle">1</text>
<path d="M572.1 442.4v2" stroke="#444" stroke-width="0.5"/>
<text x="572.1" y="451.0" class="tk" text-anchor="middle">2</text>
<text x="538.0" y="283.6" class="zn" textLength="29.9" lengthAdjust="spacingAndGlyphs">Sahelian</text>
<text x="437.4" y="398.3" class="zn" textLength="33.2" lengthAdjust="spacingAndGlyphs">Sudanian</text>
<text transform="translate(366.0 308.3) rotate(-62.7) skewX(-9)" class="zi" x="-30.2" y="2.3" textLength="60.4" lengthAdjust="spacingAndGlyphs">Sudano-Sahelian</text>
</g>
<g>
<path d="M43.8 600.1L48.4 596.6L50.2 591.9L51.4 584.8L49.6 577.9L46.7 575.8L50.8 575.0L55.5 572.0L62.5 570.3L67.1 569.7L69.7 568.0L74.1 567.4L76.2 570.9L76.2 574.4L73.6 577.3L75.3 579.3L78.8 578.5L81.7 573.2L87.0 571.5L90.5 573.8L94.0 577.9L96.3 579.1L98.5 577.3L102.1 577.7L107.6 580.6L106.5 583.1L109.1 584.5L110.2 586.3L113.1 585.6L116.7 583.5L121.1 584.5L123.3 585.6L123.7 588.4L123.7 594.0L122.6 593.3L118.2 590.7L113.4 589.2L112.3 590.3L109.8 594.4L105.0 596.2L101.0 600.1L97.5 605.8L95.6 610.1L94.0 610.5L91.7 612.2L86.4 609.3L81.1 611.1L77.6 609.9L75.9 607.0L73.0 606.4L68.3 609.3L64.2 605.8L59.0 605.8L52.5 607.6L47.9 602.4L43.8 600.1Z" fill="#fb7252" stroke="#fb7252" stroke-width="0.4" stroke-linejoin="round"/>
<path d="M91.4 636.7L87.9 638.7L84.4 639.6L80.4 642.2L80.0 645.3L77.6 645.9L73.0 643.1L67.1 642.5L64.2 638.4L60.7 636.1L59.5 632.6L56.6 629.1L54.9 625.0L51.4 624.4L46.1 623.3L43.2 619.2L44.4 612.8L44.9 605.2L43.8 600.1L47.9 602.4L52.5 607.6L59.0 605.8L64.2 605.8L68.3 609.3L73.0 606.4L75.9 607.0L77.6 609.9L81.1 611.1L86.4 609.3L91.7 612.2L94.0 610.5L95.6 610.1L97.9 612.9L97.5 618.6L95.7 621.7L96.6 625.1L94.4 628.6L88.7 630.8L90.0 633.4L91.4 636.7Z" fill="#fa6849" stroke="#fa6849" stroke-width="0.4" stroke-linejoin="round"/>
<path d="M127.7 602.1L123.8 602.1L122.9 605.1L121.1 609.4L120.3 613.8L122.0 618.2L124.6 620.8L122.9 623.4L125.5 626.0L125.1 634.7L126.4 639.1L125.1 642.6L125.5 646.0L127.7 649.1L127.3 650.4L125.1 652.2L122.9 650.4L120.7 646.9L119.4 643.4L116.8 641.3L114.1 638.2L112.4 636.0L109.8 637.8L107.1 636.5L101.9 635.6L96.6 635.2L91.4 636.7L90.0 633.4L88.7 630.8L94.4 628.6L96.6 625.1L95.7 621.7L97.5 618.6L97.9 612.9L95.6 610.1L97.5 605.8L101.0 600.1L105.0 596.2L109.8 594.4L112.3 590.3L113.4 589.2L118.2 590.7L122.6 593.3L123.7 594.0L124.4 596.9L126.9 595.1L129.9 598.4L127.7 602.1Z" fill="#fb6c4c" stroke="#fb6c4c" stroke-width="0.4" stroke-linejoin="round"/>
<path d="M69.7 568.0L70.6 565.0L75.9 559.3L77.1 552.9L73.6 550.5L74.1 548.2L79.7 547.6L81.7 540.7L78.2 534.4L85.8 526.2L89.3 523.4L90.5 525.6L95.1 528.0L103.3 533.5L105.6 530.3L110.9 529.1L109.7 522.8L110.9 516.4L115.0 517.0L118.5 518.1L121.4 517.6L124.3 521.7L128.4 524.0L129.0 527.4L134.8 529.7L131.9 535.0L127.2 536.7L127.1 543.0L125.5 550.0L121.4 561.0L124.4 565.0L120.3 568.5L122.6 571.0L122.9 573.6L120.7 576.6L125.5 578.4L126.9 581.7L129.1 586.3L132.4 588.9L131.3 591.1L124.6 590.9L123.7 588.4L123.3 585.6L121.1 584.5L116.7 583.5L113.1 585.6L110.2 586.3L109.1 584.5L106.5 583.1L107.6 580.6L102.1 577.7L98.5 577.3L96.3 579.1L94.0 577.9L90.5 573.8L87.0 571.5L81.7 573.2L78.8 578.5L75.3 579.3L73.6 577.3L76.2 574.4L76.2 570.9L74.1 567.4L69.7 568.0Z" fill="#f6553c" stroke="#f6553c" stroke-width="0.4" stroke-linejoin="round"/>
<path d="M121.4 517.6L122.0 511.3L123.7 505.4L129.6 500.5L134.3 497.6L140.7 499.3L146.0 502.5L150.6 507.4L153.0 512.7L155.9 515.0L151.2 518.5L152.4 525.4L154.1 530.2L156.5 534.9L160.0 537.8L162.3 541.7L152.6 541.9L150.6 543.6L148.5 548.2L139.0 549.4L133.7 548.8L132.5 543.6L130.8 544.2L127.1 543.0L127.2 536.7L131.9 535.0L134.8 529.7L129.0 527.4L128.4 524.0L124.3 521.7L121.4 517.6Z" fill="#f6553c" stroke="#f6553c" stroke-width="0.4" stroke-linejoin="round"/>
<path d="M146.0 502.5L148.3 498.8L148.9 492.3L157.1 491.8L169.3 483.7L175.2 481.9L186.8 473.2L193.8 472.9L196.2 474.9L199.1 473.6L203.8 474.1L208.4 476.1L214.3 476.1L214.9 481.3L212.5 490.0L214.3 493.5L219.5 498.8L219.0 503.4L220.7 508.0L223.1 510.8L226.3 515.8L230.2 517.1L236.3 521.1L240.4 524.7L245.6 526.8L244.4 528.4L240.4 526.8L237.9 525.8L237.5 536.4L226.6 539.9L224.1 537.4L220.0 533.3L214.9 529.7L210.8 524.7L208.7 520.6L204.6 521.1L201.1 519.6L197.0 518.6L194.4 515.5L191.9 510.9L188.3 507.9L183.2 510.4L179.1 511.6L175.2 513.8L169.3 515.2L164.1 514.4L161.1 510.6L157.6 510.9L155.9 515.0L153.0 512.7L150.6 507.4L146.0 502.5Z" fill="#f03f2e" stroke="#f03f2e" stroke-width="0.4" stroke-linejoin="round"/>
<path d="M155.9 515.0L157.6 510.9L161.1 510.6L164.1 514.4L169.3 515.2L175.2 513.8L179.1 511.6L183.2 510.4L188.3 507.9L191.9 510.9L194.4 515.5L197.0 518.6L201.1 519.6L199.0 524.7L198.0 531.8L196.0 537.9L197.5 542.0L200.6 546.0L201.0 552.9L191.7 555.2L189.0 553.9L187.8 548.6L185.3 548.5L183.8 551.7L180.8 552.5L176.8 548.4L173.5 549.5L173.0 545.3L162.3 541.7L160.0 537.8L156.5 534.9L154.1 530.2L152.4 525.4L151.2 518.5L155.9 515.0Z" fill="#f6553c" stroke="#f6553c" stroke-width="0.4" stroke-linejoin="round"/>
<path d="M237.5 536.4L241.1 539.0L254.0 550.0L262.7 550.5L265.7 547.6L271.5 547.6L275.6 555.2L269.8 558.7L279.1 573.5L276.6 579.5L269.2 587.7L267.5 587.9L255.8 589.1L253.5 587.3L249.4 587.3L246.5 591.4L241.2 596.1L240.0 600.8L237.7 599.0L234.2 601.4L224.3 602.5L222.5 604.2L221.1 600.9L223.1 597.4L224.8 590.7L223.1 580.6L215.6 577.5L209.3 578.0L208.3 576.0L203.9 572.7L203.7 568.6L207.4 565.7L202.0 561.0L203.2 558.1L201.0 552.9L200.6 546.0L197.5 542.0L196.0 537.9L198.0 531.8L199.0 524.7L201.1 519.6L204.6 521.1L208.7 520.6L210.8 524.7L214.9 529.7L220.0 533.3L224.1 537.4L226.6 539.9L237.5 536.4Z" fill="#f44d38" stroke="#f44d38" stroke-width="0.4" stroke-linejoin="round"/>
<path d="M221.1 600.9L214.0 600.2L205.8 598.4L199.4 596.7L196.5 599.0L191.2 602.5L189.7 604.8L187.1 600.8L184.8 596.1L186.5 591.4L190.6 588.5L191.2 586.2L187.1 585.0L182.3 581.8L180.7 578.3L182.0 574.8L186.8 573.9L190.8 570.4L194.7 568.7L195.2 564.4L192.5 559.1L191.7 555.2L201.0 552.9L203.2 558.1L202.0 561.0L207.4 565.7L203.7 568.6L203.9 572.7L208.3 576.0L209.3 578.0L215.6 577.5L223.1 580.6L224.8 590.7L223.1 597.4L221.1 600.9Z" fill="#f7593f" stroke="#f7593f" stroke-width="0.4" stroke-linejoin="round"/>
<path d="M189.7 604.8L187.7 602.5L165.7 602.2L162.2 598.5L158.7 595.0L161.6 590.9L168.6 584.5L163.6 580.0L157.5 575.2L153.1 571.3L149.6 572.6L146.5 570.0L148.7 568.2L150.0 566.0L153.6 565.2L154.4 566.9L157.9 568.2L161.0 564.7L163.2 563.9L165.4 566.5L168.0 566.0L172.8 565.6L176.3 564.5L177.6 567.8L180.3 571.7L182.0 574.8L180.7 578.3L182.3 581.8L187.1 585.0L191.2 586.2L190.6 588.5L186.5 591.4L184.8 596.1L187.1 600.8L189.7 604.8Z" fill="#f85d42" stroke="#f85d42" stroke-width="0.4" stroke-linejoin="round"/>
<path d="M165.7 602.2L127.7 602.1L129.9 598.4L126.9 595.1L124.4 596.9L123.7 594.0L123.7 588.4L124.6 590.9L131.3 591.1L132.4 588.9L129.1 586.3L126.9 581.7L125.5 578.4L120.7 576.6L122.9 573.6L122.6 571.0L120.3 568.5L124.4 565.0L121.4 561.0L125.5 550.0L127.1 543.0L130.8 544.2L132.5 543.6L133.7 548.8L139.0 549.4L148.5 548.2L152.2 551.2L154.4 554.9L147.9 556.1L145.7 559.6L147.4 560.9L150.5 559.1L154.4 558.7L153.6 561.7L153.6 565.2L150.0 566.0L148.7 568.2L146.5 570.0L149.6 572.6L153.1 571.3L157.5 575.2L163.6 580.0L168.6 584.5L161.6 590.9L158.7 595.0L162.2 598.5L165.7 602.2Z" fill="#f85d42" stroke="#f85d42" stroke-width="0.4" stroke-linejoin="round"/>
<path d="M148.5 548.2L150.6 543.6L152.6 541.9L162.3 541.7L173.0 545.3L173.5 549.5L176.8 548.4L180.8 552.5L183.8 551.7L185.3 548.5L187.8 548.6L189.0 553.9L191.7 555.2L192.5 559.1L195.2 564.4L194.7 568.7L190.8 570.4L186.8 573.9L182.0 574.8L180.3 571.7L177.6 567.8L176.3 564.5L174.1 561.3L170.2 557.8L169.3 554.3L165.4 555.2L163.2 552.6L160.6 551.2L159.7 549.0L156.6 552.1L154.4 554.9L152.2 551.2L148.5 548.2Z" fill="#f7593f" stroke="#f7593f" stroke-width="0.4" stroke-linejoin="round"/>
<path d="M154.4 554.9L156.6 552.1L159.7 549.0L160.6 551.2L163.2 552.6L165.4 555.2L169.3 554.3L170.2 557.8L174.1 561.3L176.3 564.5L172.8 565.6L168.0 566.0L165.4 566.5L163.2 563.9L161.0 564.7L157.9 568.2L154.4 566.9L153.6 565.2L153.6 561.7L154.4 558.7L150.5 559.1L147.4 560.9L145.7 559.6L147.9 556.1L154.4 554.9Z" fill="#f85f43" stroke="#f85f43" stroke-width="0.4" stroke-linejoin="round"/>
<path d="M69.7 568.0L70.6 565.0L75.9 559.3L77.1 552.9L73.6 550.5L74.1 548.2L79.7 547.6L81.7 540.7L78.2 534.4L85.8 526.2L89.3 523.4L90.5 525.6L95.1 528.0L103.3 533.5L105.6 530.3L110.9 529.1L109.7 522.8L110.9 516.4L115.0 517.0L118.5 518.1L121.4 517.6M121.4 517.6L122.0 511.3L123.7 505.4L129.6 500.5L134.3 497.6L140.7 499.3L146.0 502.5M146.0 502.5L148.3 498.8L148.9 492.3L157.1 491.8L169.3 483.7L175.2 481.9L186.8 473.2L193.8 472.9L196.2 474.9L199.1 473.6L203.8 474.1L208.4 476.1L214.3 476.1L214.9 481.3L212.5 490.0L214.3 493.5L219.5 498.8L219.0 503.4L220.7 508.0L223.1 510.8L226.3 515.8L230.2 517.1L236.3 521.1L240.4 524.7L245.6 526.8L244.4 528.4L240.4 526.8L237.9 525.8L237.5 536.4M237.5 536.4L241.1 539.0L254.0 550.0L262.7 550.5L265.7 547.6L271.5 547.6L275.6 555.2L269.8 558.7L279.1 573.5L276.6 579.5L269.2 587.7L267.5 587.9L255.8 589.1L253.5 587.3L249.4 587.3L246.5 591.4L241.2 596.1L240.0 600.8L237.7 599.0L234.2 601.4L224.3 602.5L222.5 604.2L221.1 600.9M221.1 600.9L214.0 600.2L205.8 598.4L199.4 596.7L196.5 599.0L191.2 602.5L189.7 604.8M127.7 602.1L123.8 602.1L122.9 605.1L121.1 609.4L120.3 613.8L122.0 618.2L124.6 620.8L122.9 623.4L125.5 626.0L125.1 634.7L126.4 639.1L125.1 642.6L125.5 646.0L127.7 649.1L127.3 650.4L125.1 652.2L122.9 650.4L120.7 646.9L119.4 643.4L116.8 641.3L114.1 638.2L112.4 636.0L109.8 637.8L107.1 636.5L101.9 635.6L96.6 635.2L91.4 636.7M91.4 636.7L87.9 638.7L84.4 639.6L80.4 642.2L80.0 645.3L77.6 645.9L73.0 643.1L67.1 642.5L64.2 638.4L60.7 636.1L59.5 632.6L56.6 629.1L54.9 625.0L51.4 624.4L46.1 623.3L43.2 619.2L44.4 612.8L44.9 605.2L43.8 600.1M43.8 600.1L48.4 596.6L50.2 591.9L51.4 584.8L49.6 577.9L46.7 575.8L50.8 575.0L55.5 572.0L62.5 570.3L67.1 569.7L69.7 568.0M69.7 568.0L74.1 567.4L76.2 570.9L76.2 574.4L73.6 577.3L75.3 579.3L78.8 578.5L81.7 573.2L87.0 571.5L90.5 573.8L94.0 577.9L96.3 579.1L98.5 577.3L102.1 577.7L107.6 580.6L106.5 583.1L109.1 584.5L110.2 586.3L113.1 585.6L116.7 583.5L121.1 584.5L123.3 585.6L123.7 588.4M121.4 517.6L124.3 521.7L128.4 524.0L129.0 527.4L134.8 529.7L131.9 535.0L127.2 536.7L127.1 543.0M127.1 543.0L125.5 550.0L121.4 561.0L124.4 565.0L120.3 568.5L122.6 571.0L122.9 573.6L120.7 576.6L125.5 578.4L126.9 581.7L129.1 586.3L132.4 588.9L131.3 591.1L124.6 590.9L123.7 588.4M146.0 502.5L150.6 507.4L153.0 512.7L155.9 515.0M155.9 515.0L157.6 510.9L161.1 510.6L164.1 514.4L169.3 515.2L175.2 513.8L179.1 511.6L183.2 510.4L188.3 507.9L191.9 510.9L194.4 515.5L197.0 518.6L201.1 519.6M201.1 519.6L204.6 521.1L208.7 520.6L210.8 524.7L214.9 529.7L220.0 533.3L224.1 537.4L226.6 539.9L237.5 536.4M155.9 515.0L151.2 518.5L152.4 525.4L154.1 530.2L156.5 534.9L160.0 537.8L162.3 541.7M127.1 543.0L130.8 544.2L132.5 543.6L133.7 548.8L139.0 549.4L148.5 548.2M148.5 548.2L150.6 543.6L152.6 541.9L162.3 541.7M162.3 541.7L173.0 545.3L173.5 549.5L176.8 548.4L180.8 552.5L183.8 551.7L185.3 548.5L187.8 548.6L189.0 553.9L191.7 555.2M191.7 555.2L201.0 552.9M201.1 519.6L199.0 524.7L198.0 531.8L196.0 537.9L197.5 542.0L200.6 546.0L201.0 552.9M201.0 552.9L203.2 558.1L202.0 561.0L207.4 565.7L203.7 568.6L203.9 572.7L208.3 576.0L209.3 578.0L215.6 577.5L223.1 580.6L224.8 590.7L223.1 597.4L221.1 600.9M148.5 548.2L152.2 551.2L154.4 554.9M154.4 554.9L156.6 552.1L159.7 549.0L160.6 551.2L163.2 552.6L165.4 555.2L169.3 554.3L170.2 557.8L174.1 561.3L176.3 564.5M176.3 564.5L172.8 565.6L168.0 566.0L165.4 566.5L163.2 563.9L161.0 564.7L157.9 568.2L154.4 566.9L153.6 565.2M153.6 565.2L153.6 561.7L154.4 558.7L150.5 559.1L147.4 560.9L145.7 559.6L147.9 556.1L154.4 554.9M176.3 564.5L177.6 567.8L180.3 571.7L182.0 574.8M191.7 555.2L192.5 559.1L195.2 564.4L194.7 568.7L190.8 570.4L186.8 573.9L182.0 574.8M182.0 574.8L180.7 578.3L182.3 581.8L187.1 585.0L191.2 586.2L190.6 588.5L186.5 591.4L184.8 596.1L187.1 600.8L189.7 604.8M153.6 565.2L150.0 566.0L148.7 568.2L146.5 570.0L149.6 572.6L153.1 571.3L157.5 575.2L163.6 580.0L168.6 584.5L161.6 590.9L158.7 595.0L162.2 598.5L165.7 602.2M123.7 588.4L123.7 594.0M95.6 610.1L97.5 605.8L101.0 600.1L105.0 596.2L109.8 594.4L112.3 590.3L113.4 589.2L118.2 590.7L122.6 593.3L123.7 594.0M123.7 594.0L124.4 596.9L126.9 595.1L129.9 598.4L127.7 602.1M43.8 600.1L47.9 602.4L52.5 607.6L59.0 605.8L64.2 605.8L68.3 609.3L73.0 606.4L75.9 607.0L77.6 609.9L81.1 611.1L86.4 609.3L91.7 612.2L94.0 610.5L95.6 610.1M95.6 610.1L97.9 612.9L97.5 618.6L95.7 621.7L96.6 625.1L94.4 628.6L88.7 630.8L90.0 633.4L91.4 636.7" fill="none" stroke="#161616" stroke-width="0.62" stroke-linejoin="round" stroke-linecap="round"/>
<path d="M189.7 604.8L187.7 602.5" fill="none" stroke="#161616" stroke-width="0.62" stroke-linecap="round"/>
<path d="M187.7 602.5L165.7 602.2M165.7 602.2L127.7 602.1" fill="none" stroke="#000" stroke-opacity="0.33" stroke-width="0.55"/>
<path d="M105.1 533.8L120.1 537.3L143.1 542.5L166.0 546.4L179.1 547.9L189.2 549.3L199.2 549.2L209.3 547.6L219.4 544.4L225.9 541.4L236.4 537.1" fill="none" stroke="#111" stroke-width="1.10" stroke-dasharray="3.4 1.5"/>
<path d="M64.3 570.5L66.5 576.9L70.6 583.8L76.2 588.3L83.1 590.5L93.4 591.0L100.6 590.6L112.1 588.1L123.5 587.3L130.3 589.5L134.8 592.9L146.2 593.9L157.7 593.4L170.7 591.8L178.7 588.7L186.6 583.3L193.4 585.0L200.3 589.5L207.2 594.1L212.9 595.2L219.7 593.0L222.9 589.5L230.9 583.4L237.8 579.4L242.3 578.4L248.0 580.3L253.1 585.0" fill="none" stroke="#111" stroke-width="1.00" stroke-dasharray="3.4 1.5"/>
<path d="M236.4 537.1l-3.2 1.1" fill="none" stroke="#111" stroke-width="1.8"/>
<rect x="31.5" y="464.5" width="259.6" height="196.7" fill="none" stroke="#7d7d7d" stroke-width="0.7"/>
<path d="M31.5 633.4h-2" stroke="#444" stroke-width="0.5"/>
<text x="28.3" y="636.4" class="tk" text-anchor="end">10</text>
<path d="M31.5 601.9h-2" stroke="#444" stroke-width="0.5"/>
<text x="28.3" y="604.9" class="tk" text-anchor="end">11</text>
<path d="M31.5 570.4h-2" stroke="#444" stroke-width="0.5"/>
<text x="28.3" y="573.4" class="tk" text-anchor="end">12</text>
<path d="M31.5 538.9h-2" stroke="#444" stroke-width="0.5"/>
<text x="28.3" y="541.9" class="tk" text-anchor="end">13</text>
<path d="M31.5 507.4h-2" stroke="#444" stroke-width="0.5"/>
<text x="28.3" y="510.4" class="tk" text-anchor="end">14</text>
<path d="M31.5 475.9h-2" stroke="#444" stroke-width="0.5"/>
<text x="28.3" y="478.9" class="tk" text-anchor="end">15</text>
<path d="M58.5 661.2v2" stroke="#444" stroke-width="0.5"/>
<text x="58.5" y="669.8" class="tk" text-anchor="middle">−5</text>
<path d="M88.3 661.2v2" stroke="#444" stroke-width="0.5"/>
<text x="88.3" y="669.8" class="tk" text-anchor="middle">−4</text>
<path d="M118.2 661.2v2" stroke="#444" stroke-width="0.5"/>
<text x="118.2" y="669.8" class="tk" text-anchor="middle">−3</text>
<path d="M148.0 661.2v2" stroke="#444" stroke-width="0.5"/>
<text x="148.0" y="669.8" class="tk" text-anchor="middle">−2</text>
<path d="M177.9 661.2v2" stroke="#444" stroke-width="0.5"/>
<text x="177.9" y="669.8" class="tk" text-anchor="middle">−1</text>
<path d="M207.7 661.2v2" stroke="#444" stroke-width="0.5"/>
<text x="207.7" y="669.8" class="tk" text-anchor="middle">0</text>
<path d="M237.5 661.2v2" stroke="#444" stroke-width="0.5"/>
<text x="237.5" y="669.8" class="tk" text-anchor="middle">1</text>
<path d="M267.4 661.2v2" stroke="#444" stroke-width="0.5"/>
<text x="267.4" y="669.8" class="tk" text-anchor="middle">2</text>
<text x="232.0" y="504.8" class="zn" textLength="29.9" lengthAdjust="spacingAndGlyphs">Sahelian</text>
<text x="138.2" y="628.5" class="zn" textLength="33.2" lengthAdjust="spacingAndGlyphs">Sudanian</text>
<text transform="translate(63.2 518.3) rotate(-62.7) skewX(-9)" class="zi" x="-30.2" y="2.3" textLength="60.4" lengthAdjust="spacingAndGlyphs">Sudano-Sahelian</text>
</g>
<g>
<path d="M339.1 600.2L343.9 596.7L345.7 592.0L347.0 584.9L345.1 578.0L342.1 575.9L346.4 575.1L351.3 572.1L358.6 570.4L363.4 569.8L366.1 568.1L370.7 567.5L372.9 571.0L372.9 574.5L370.2 577.4L371.9 579.4L375.6 578.6L378.6 573.3L384.2 571.6L387.8 573.9L391.5 578.0L393.9 579.2L396.2 577.4L399.9 577.8L405.7 580.7L404.5 583.2L407.2 584.6L408.4 586.4L411.4 585.7L415.2 583.6L419.7 584.6L422.0 585.7L422.5 588.5L422.5 594.1L421.3 593.4L416.7 590.8L411.7 589.3L410.6 590.4L408.0 594.5L402.9 596.3L398.8 600.2L395.1 605.9L393.1 610.2L391.5 610.6L389.1 612.3L383.5 609.4L378.0 611.2L374.3 610.0L372.6 607.1L369.5 606.5L364.6 609.4L360.4 605.9L354.9 605.9L348.1 607.7L343.3 602.5L339.1 600.2Z" fill="#e93529" stroke="#e93529" stroke-width="0.4" stroke-linejoin="round"/>
<path d="M388.7 636.8L385.1 638.8L381.4 639.7L377.3 642.3L376.8 645.4L374.3 646.0L369.5 643.2L363.4 642.6L360.4 638.5L356.7 636.2L355.4 632.7L352.4 629.2L350.6 625.1L347.0 624.5L341.5 623.4L338.4 619.3L339.7 612.9L340.2 605.3L339.1 600.2L343.3 602.5L348.1 607.7L354.9 605.9L360.4 605.9L364.6 609.4L369.5 606.5L372.6 607.1L374.3 610.0L378.0 611.2L383.5 609.4L389.1 612.3L391.5 610.6L393.1 610.2L395.5 613.0L395.1 618.7L393.2 621.8L394.2 625.2L391.9 628.7L385.9 630.9L387.3 633.5L388.7 636.8Z" fill="#e63328" stroke="#e63328" stroke-width="0.4" stroke-linejoin="round"/>
<path d="M426.6 602.2L422.6 602.2L421.6 605.2L419.7 609.5L418.9 613.9L420.7 618.3L423.4 620.9L421.6 623.5L424.3 626.1L423.9 634.8L425.3 639.2L423.9 642.7L424.3 646.1L426.6 649.2L426.2 650.5L423.9 652.3L421.6 650.5L419.3 647.0L418.0 643.5L415.3 641.4L412.4 638.3L410.7 636.1L408.0 637.9L405.1 636.6L399.7 635.7L394.2 635.3L388.7 636.8L387.3 633.5L385.9 630.9L391.9 628.7L394.2 625.2L393.2 621.8L395.1 618.7L395.5 613.0L393.1 610.2L395.1 605.9L398.8 600.2L402.9 596.3L408.0 594.5L410.6 590.4L411.7 589.3L416.7 590.8L421.3 593.4L422.5 594.1L423.2 597.0L425.8 595.2L428.9 598.5L426.6 602.2Z" fill="#e83429" stroke="#e83429" stroke-width="0.4" stroke-linejoin="round"/>
<path d="M366.1 568.1L367.0 565.1L372.6 559.4L373.8 553.0L370.2 550.6L370.7 548.3L376.5 547.7L378.6 540.8L375.0 534.5L382.9 526.3L386.6 523.5L387.8 525.7L392.6 528.1L401.2 533.6L403.6 530.4L409.1 529.2L407.8 522.9L409.1 516.5L413.4 517.1L417.0 518.2L420.1 517.7L423.1 521.8L427.4 524.1L428.0 527.5L434.0 529.8L431.0 535.1L426.1 536.8L426.0 543.1L424.3 550.1L420.1 561.1L423.2 565.1L418.9 568.6L421.3 571.1L421.6 573.7L419.3 576.7L424.3 578.5L425.8 581.8L428.1 586.4L431.5 589.0L430.4 591.2L423.4 591.0L422.5 588.5L422.0 585.7L419.7 584.6L415.2 583.6L411.4 585.7L408.4 586.4L407.2 584.6L404.5 583.2L405.7 580.7L399.9 577.8L396.2 577.4L393.9 579.2L391.5 578.0L387.8 573.9L384.2 571.6L378.6 573.3L375.6 578.6L371.9 579.4L370.2 577.4L372.9 574.5L372.9 571.0L370.7 567.5L366.1 568.1Z" fill="#e12d26" stroke="#e12d26" stroke-width="0.4" stroke-linejoin="round"/>
<path d="M420.1 517.7L420.7 511.4L422.5 505.5L428.6 500.6L433.5 497.7L440.2 499.4L445.7 502.6L450.5 507.5L453.0 512.8L456.1 515.1L451.2 518.6L452.4 525.5L454.2 530.3L456.7 535.0L460.4 537.9L462.8 541.8L452.6 542.0L450.5 543.7L448.4 548.3L438.4 549.5L432.9 548.9L431.6 543.7L429.9 544.3L426.0 543.1L426.1 536.8L431.0 535.1L434.0 529.8L428.0 527.5L427.4 524.1L423.1 521.8L420.1 517.7Z" fill="#e12d26" stroke="#e12d26" stroke-width="0.4" stroke-linejoin="round"/>
<path d="M445.7 502.6L448.1 498.9L448.8 492.4L457.3 491.9L470.1 483.8L476.2 482.0L488.3 473.3L495.6 473.0L498.1 475.0L501.2 473.7L506.1 474.2L510.9 476.2L517.0 476.2L517.7 481.4L515.2 490.1L517.0 493.6L522.5 498.9L521.9 503.5L523.7 508.1L526.2 510.9L529.6 515.9L533.6 517.2L540.0 521.2L544.3 524.8L549.7 526.9L548.5 528.5L544.3 526.9L541.7 525.9L541.3 536.5L529.9 540.0L527.3 537.5L523.0 533.4L517.7 529.8L513.4 524.8L511.2 520.7L506.9 521.2L503.3 519.7L499.0 518.7L496.3 515.6L493.7 511.0L489.9 508.0L484.6 510.5L480.3 511.7L476.2 513.9L470.1 515.3L464.6 514.5L461.5 510.7L457.9 511.0L456.1 515.1L453.0 512.8L450.5 507.5L445.7 502.6Z" fill="#dc2924" stroke="#dc2924" stroke-width="0.4" stroke-linejoin="round"/>
<path d="M456.1 515.1L457.9 511.0L461.5 510.7L464.6 514.5L470.1 515.3L476.2 513.9L480.3 511.7L484.6 510.5L489.9 508.0L493.7 511.0L496.3 515.6L499.0 518.7L503.3 519.7L501.1 524.8L500.0 531.9L497.9 538.0L499.5 542.1L502.7 546.1L503.2 553.0L493.4 555.3L490.6 554.0L489.4 548.7L486.8 548.6L485.2 551.8L482.1 552.6L477.9 548.5L474.4 549.6L473.9 545.4L462.8 541.8L460.4 537.9L456.7 535.0L454.2 530.3L452.4 525.5L451.2 518.6L456.1 515.1Z" fill="#e12d26" stroke="#e12d26" stroke-width="0.4" stroke-linejoin="round"/>
<path d="M541.3 536.5L545.0 539.1L558.5 550.1L567.6 550.6L570.7 547.7L576.8 547.7L581.0 555.3L575.0 558.8L584.7 573.6L582.1 579.6L574.3 587.8L572.6 588.0L560.4 589.2L558.0 587.4L553.7 587.4L550.7 591.5L545.1 596.2L543.9 600.9L541.5 599.1L537.8 601.5L527.5 602.6L525.6 604.3L524.1 601.0L526.2 597.5L528.0 590.8L526.2 580.7L518.4 577.6L511.8 578.1L510.8 576.1L506.2 572.8L506.0 568.7L509.8 565.8L504.2 561.1L505.5 558.2L503.2 553.0L502.7 546.1L499.5 542.1L497.9 538.0L500.0 531.9L501.1 524.8L503.3 519.7L506.9 521.2L511.2 520.7L513.4 524.8L517.7 529.8L523.0 533.4L527.3 537.5L529.9 540.0L541.3 536.5Z" fill="#e02c26" stroke="#e02c26" stroke-width="0.4" stroke-linejoin="round"/>
<path d="M524.1 601.0L516.7 600.3L508.2 598.5L501.5 596.8L498.5 599.1L492.9 602.6L491.4 604.9L488.6 600.9L486.2 596.2L488.0 591.5L492.3 588.6L492.9 586.3L488.6 585.1L483.6 581.9L482.0 578.4L483.3 574.9L488.3 574.0L492.5 570.5L496.6 568.8L497.1 564.5L494.3 559.2L493.4 555.3L503.2 553.0L505.5 558.2L504.2 561.1L509.8 565.8L506.0 568.7L506.2 572.8L510.8 576.1L511.8 578.1L518.4 577.6L526.2 580.7L528.0 590.8L526.2 597.5L524.1 601.0Z" fill="#e22e27" stroke="#e22e27" stroke-width="0.4" stroke-linejoin="round"/>
<path d="M491.4 604.9L489.3 602.6L466.3 602.3L462.7 598.6L459.0 595.1L462.0 591.0L469.3 584.6L464.1 580.1L457.7 575.3L453.2 571.4L449.5 572.7L446.3 570.1L448.6 568.3L449.9 566.1L453.7 565.3L454.5 567.0L458.2 568.3L461.4 564.8L463.7 564.0L466.0 566.6L468.7 566.1L473.7 565.7L477.4 564.6L478.7 567.9L481.5 571.8L483.3 574.9L482.0 578.4L483.6 581.9L488.6 585.1L492.9 586.3L492.3 588.6L488.0 591.5L486.2 596.2L488.6 600.9L491.4 604.9Z" fill="#e32f27" stroke="#e32f27" stroke-width="0.4" stroke-linejoin="round"/>
<path d="M466.3 602.3L426.6 602.2L428.9 598.5L425.8 595.2L423.2 597.0L422.5 594.1L422.5 588.5L423.4 591.0L430.4 591.2L431.5 589.0L428.1 586.4L425.8 581.8L424.3 578.5L419.3 576.7L421.6 573.7L421.3 571.1L418.9 568.6L423.2 565.1L420.1 561.1L424.3 550.1L426.0 543.1L429.9 544.3L431.6 543.7L432.9 548.9L438.4 549.5L448.4 548.3L452.2 551.3L454.5 555.0L447.7 556.2L445.4 559.7L447.2 561.0L450.4 559.2L454.5 558.8L453.7 561.8L453.7 565.3L449.9 566.1L448.6 568.3L446.3 570.1L449.5 572.7L453.2 571.4L457.7 575.3L464.1 580.1L469.3 584.6L462.0 591.0L459.0 595.1L462.7 598.6L466.3 602.3Z" fill="#e32f27" stroke="#e32f27" stroke-width="0.4" stroke-linejoin="round"/>
<path d="M448.4 548.3L450.5 543.7L452.6 542.0L462.8 541.8L473.9 545.4L474.4 549.6L477.9 548.5L482.1 552.6L485.2 551.8L486.8 548.6L489.4 548.7L490.6 554.0L493.4 555.3L494.3 559.2L497.1 564.5L496.6 568.8L492.5 570.5L488.3 574.0L483.3 574.9L481.5 571.8L478.7 567.9L477.4 564.6L475.1 561.4L471.0 557.9L470.1 554.4L466.0 555.3L463.7 552.7L461.0 551.3L460.0 549.1L456.8 552.2L454.5 555.0L452.2 551.3L448.4 548.3Z" fill="#e22e27" stroke="#e22e27" stroke-width="0.4" stroke-linejoin="round"/>
<path d="M454.5 555.0L456.8 552.2L460.0 549.1L461.0 551.3L463.7 552.7L466.0 555.3L470.1 554.4L471.0 557.9L475.1 561.4L477.4 564.6L473.7 565.7L468.7 566.1L466.0 566.6L463.7 564.0L461.4 564.8L458.2 568.3L454.5 567.0L453.7 565.3L453.7 561.8L454.5 558.8L450.4 559.2L447.2 561.0L445.4 559.7L447.7 556.2L454.5 555.0Z" fill="#e53228" stroke="#e53228" stroke-width="0.4" stroke-linejoin="round"/>
<path d="M366.1 568.1L367.0 565.1L372.6 559.4L373.8 553.0L370.2 550.6L370.7 548.3L376.5 547.7L378.6 540.8L375.0 534.5L382.9 526.3L386.6 523.5L387.8 525.7L392.6 528.1L401.2 533.6L403.6 530.4L409.1 529.2L407.8 522.9L409.1 516.5L413.4 517.1L417.0 518.2L420.1 517.7M420.1 517.7L420.7 511.4L422.5 505.5L428.6 500.6L433.5 497.7L440.2 499.4L445.7 502.6M445.7 502.6L448.1 498.9L448.8 492.4L457.3 491.9L470.1 483.8L476.2 482.0L488.3 473.3L495.6 473.0L498.1 475.0L501.2 473.7L506.1 474.2L510.9 476.2L517.0 476.2L517.7 481.4L515.2 490.1L517.0 493.6L522.5 498.9L521.9 503.5L523.7 508.1L526.2 510.9L529.6 515.9L533.6 517.2L540.0 521.2L544.3 524.8L549.7 526.9L548.5 528.5L544.3 526.9L541.7 525.9L541.3 536.5M541.3 536.5L545.0 539.1L558.5 550.1L567.6 550.6L570.7 547.7L576.8 547.7L581.0 555.3L575.0 558.8L584.7 573.6L582.1 579.6L574.3 587.8L572.6 588.0L560.4 589.2L558.0 587.4L553.7 587.4L550.7 591.5L545.1 596.2L543.9 600.9L541.5 599.1L537.8 601.5L527.5 602.6L525.6 604.3L524.1 601.0M524.1 601.0L516.7 600.3L508.2 598.5L501.5 596.8L498.5 599.1L492.9 602.6L491.4 604.9M426.6 602.2L422.6 602.2L421.6 605.2L419.7 609.5L418.9 613.9L420.7 618.3L423.4 620.9L421.6 623.5L424.3 626.1L423.9 634.8L425.3 639.2L423.9 642.7L424.3 646.1L426.6 649.2L426.2 650.5L423.9 652.3L421.6 650.5L419.3 647.0L418.0 643.5L415.3 641.4L412.4 638.3L410.7 636.1L408.0 637.9L405.1 636.6L399.7 635.7L394.2 635.3L388.7 636.8M388.7 636.8L385.1 638.8L381.4 639.7L377.3 642.3L376.8 645.4L374.3 646.0L369.5 643.2L363.4 642.6L360.4 638.5L356.7 636.2L355.4 632.7L352.4 629.2L350.6 625.1L347.0 624.5L341.5 623.4L338.4 619.3L339.7 612.9L340.2 605.3L339.1 600.2M339.1 600.2L343.9 596.7L345.7 592.0L347.0 584.9L345.1 578.0L342.1 575.9L346.4 575.1L351.3 572.1L358.6 570.4L363.4 569.8L366.1 568.1M366.1 568.1L370.7 567.5L372.9 571.0L372.9 574.5L370.2 577.4L371.9 579.4L375.6 578.6L378.6 573.3L384.2 571.6L387.8 573.9L391.5 578.0L393.9 579.2L396.2 577.4L399.9 577.8L405.7 580.7L404.5 583.2L407.2 584.6L408.4 586.4L411.4 585.7L415.2 583.6L419.7 584.6L422.0 585.7L422.5 588.5M420.1 517.7L423.1 521.8L427.4 524.1L428.0 527.5L434.0 529.8L431.0 535.1L426.1 536.8L426.0 543.1M426.0 543.1L424.3 550.1L420.1 561.1L423.2 565.1L418.9 568.6L421.3 571.1L421.6 573.7L419.3 576.7L424.3 578.5L425.8 581.8L428.1 586.4L431.5 589.0L430.4 591.2L423.4 591.0L422.5 588.5M445.7 502.6L450.5 507.5L453.0 512.8L456.1 515.1M456.1 515.1L457.9 511.0L461.5 510.7L464.6 514.5L470.1 515.3L476.2 513.9L480.3 511.7L484.6 510.5L489.9 508.0L493.7 511.0L496.3 515.6L499.0 518.7L503.3 519.7M503.3 519.7L506.9 521.2L511.2 520.7L513.4 524.8L517.7 529.8L523.0 533.4L527.3 537.5L529.9 540.0L541.3 536.5M456.1 515.1L451.2 518.6L452.4 525.5L454.2 530.3L456.7 535.0L460.4 537.9L462.8 541.8M426.0 543.1L429.9 544.3L431.6 543.7L432.9 548.9L438.4 549.5L448.4 548.3M448.4 548.3L450.5 543.7L452.6 542.0L462.8 541.8M462.8 541.8L473.9 545.4L474.4 549.6L477.9 548.5L482.1 552.6L485.2 551.8L486.8 548.6L489.4 548.7L490.6 554.0L493.4 555.3M493.4 555.3L503.2 553.0M503.3 519.7L501.1 524.8L500.0 531.9L497.9 538.0L499.5 542.1L502.7 546.1L503.2 553.0M503.2 553.0L505.5 558.2L504.2 561.1L509.8 565.8L506.0 568.7L506.2 572.8L510.8 576.1L511.8 578.1L518.4 577.6L526.2 580.7L528.0 590.8L526.2 597.5L524.1 601.0M448.4 548.3L452.2 551.3L454.5 555.0M454.5 555.0L456.8 552.2L460.0 549.1L461.0 551.3L463.7 552.7L466.0 555.3L470.1 554.4L471.0 557.9L475.1 561.4L477.4 564.6M477.4 564.6L473.7 565.7L468.7 566.1L466.0 566.6L463.7 564.0L461.4 564.8L458.2 568.3L454.5 567.0L453.7 565.3M453.7 565.3L453.7 561.8L454.5 558.8L450.4 559.2L447.2 561.0L445.4 559.7L447.7 556.2L454.5 555.0M477.4 564.6L478.7 567.9L481.5 571.8L483.3 574.9M493.4 555.3L494.3 559.2L497.1 564.5L496.6 568.8L492.5 570.5L488.3 574.0L483.3 574.9M483.3 574.9L482.0 578.4L483.6 581.9L488.6 585.1L492.9 586.3L492.3 588.6L488.0 591.5L486.2 596.2L488.6 600.9L491.4 604.9M453.7 565.3L449.9 566.1L448.6 568.3L446.3 570.1L449.5 572.7L453.2 571.4L457.7 575.3L464.1 580.1L469.3 584.6L462.0 591.0L459.0 595.1L462.7 598.6L466.3 602.3M422.5 588.5L422.5 594.1M393.1 610.2L395.1 605.9L398.8 600.2L402.9 596.3L408.0 594.5L410.6 590.4L411.7 589.3L416.7 590.8L421.3 593.4L422.5 594.1M422.5 594.1L423.2 597.0L425.8 595.2L428.9 598.5L426.6 602.2M339.1 600.2L343.3 602.5L348.1 607.7L354.9 605.9L360.4 605.9L364.6 609.4L369.5 606.5L372.6 607.1L374.3 610.0L378.0 611.2L383.5 609.4L389.1 612.3L391.5 610.6L393.1 610.2M393.1 610.2L395.5 613.0L395.1 618.7L393.2 621.8L394.2 625.2L391.9 628.7L385.9 630.9L387.3 633.5L388.7 636.8" fill="none" stroke="#161616" stroke-width="0.62" stroke-linejoin="round" stroke-linecap="round"/>
<path d="M491.4 604.9L489.3 602.6" fill="none" stroke="#161616" stroke-width="0.62" stroke-linecap="round"/>
<path d="M489.3 602.6L466.3 602.3M466.3 602.3L426.6 602.2" fill="none" stroke="#000" stroke-opacity="0.33" stroke-width="0.55"/>
<path d="M404.0 534.0L419.6 537.6L443.6 542.8L467.4 546.8L481.1 548.3L491.5 549.7L502.0 549.6L512.5 547.9L523.0 544.7L529.7 541.7L540.7 537.3" fill="none" stroke="#111" stroke-width="1.10" stroke-dasharray="3.4 1.5"/>
<path d="M363.4 569.6L365.7 576.0L369.9 582.9L375.7 587.6L382.8 589.9L393.4 590.5L400.9 590.1L412.7 587.8L424.5 587.2L431.6 589.5L436.2 593.0L448.0 594.1L459.8 593.8L473.2 592.3L481.5 589.4L489.6 584.1L496.7 585.9L503.8 590.4L510.9 595.1L516.8 596.3L523.8 593.9L527.1 590.5L535.4 584.2L542.5 580.2L547.1 579.1L553.1 580.8L558.3 585.5" fill="none" stroke="#111" stroke-width="1.00" stroke-dasharray="3.4 1.5"/>
<path d="M540.7 537.3l-3.2 1.1" fill="none" stroke="#111" stroke-width="1.8"/>
<rect x="325.5" y="464.5" width="272.2" height="196.7" fill="none" stroke="#8c8c8c" stroke-width="0.8"/>
<path d="M325.5 633.5h-2" stroke="#444" stroke-width="0.5"/>
<text x="322.3" y="636.5" class="tk" text-anchor="end">10</text>
<path d="M325.5 602.0h-2" stroke="#444" stroke-width="0.5"/>
<text x="322.3" y="605.0" class="tk" text-anchor="end">11</text>
<path d="M325.5 570.5h-2" stroke="#444" stroke-width="0.5"/>
<text x="322.3" y="573.5" class="tk" text-anchor="end">12</text>
<path d="M325.5 539.0h-2" stroke="#444" stroke-width="0.5"/>
<text x="322.3" y="542.0" class="tk" text-anchor="end">13</text>
<path d="M325.5 507.5h-2" stroke="#444" stroke-width="0.5"/>
<text x="322.3" y="510.5" class="tk" text-anchor="end">14</text>
<path d="M325.5 476.0h-2" stroke="#444" stroke-width="0.5"/>
<text x="322.3" y="479.0" class="tk" text-anchor="end">15</text>
<path d="M354.4 661.2v2" stroke="#444" stroke-width="0.5"/>
<text x="354.4" y="669.8" class="tk" text-anchor="middle">−5</text>
<path d="M385.5 661.2v2" stroke="#444" stroke-width="0.5"/>
<text x="385.5" y="669.8" class="tk" text-anchor="middle">−4</text>
<path d="M416.7 661.2v2" stroke="#444" stroke-width="0.5"/>
<text x="416.7" y="669.8" class="tk" text-anchor="middle">−3</text>
<path d="M447.8 661.2v2" stroke="#444" stroke-width="0.5"/>
<text x="447.8" y="669.8" class="tk" text-anchor="middle">−2</text>
<path d="M479.0 661.2v2" stroke="#444" stroke-width="0.5"/>
<text x="479.0" y="669.8" class="tk" text-anchor="middle">−1</text>
<path d="M510.1 661.2v2" stroke="#444" stroke-width="0.5"/>
<text x="510.1" y="669.8" class="tk" text-anchor="middle">0</text>
<path d="M541.3 661.2v2" stroke="#444" stroke-width="0.5"/>
<text x="541.3" y="669.8" class="tk" text-anchor="middle">1</text>
<path d="M572.4 661.2v2" stroke="#444" stroke-width="0.5"/>
<text x="572.4" y="669.8" class="tk" text-anchor="middle">2</text>
<text x="530.0" y="494.8" class="zn" textLength="29.9" lengthAdjust="spacingAndGlyphs">Sahelian</text>
<text x="435.9" y="627.3" class="zn" textLength="33.2" lengthAdjust="spacingAndGlyphs">Sudanian</text>
<text transform="translate(366.0 520.9) rotate(-62.5) skewX(-9)" class="zi" x="-30.2" y="2.3" textLength="60.4" lengthAdjust="spacingAndGlyphs">Sudano-Sahelian</text>
</g>
<defs><linearGradient id="g1" x1="0" y1="0" x2="0" y2="1"><stop offset="0.0000" stop-color="#006837"/><stop offset="0.0417" stop-color="#0a7b41"/><stop offset="0.0833" stop-color="#15904c"/><stop offset="0.1250" stop-color="#2aa054"/><stop offset="0.1667" stop-color="#4bb05c"/><stop offset="0.2083" stop-color="#6bbf64"/><stop offset="0.2500" stop-color="#84ca66"/><stop offset="0.2917" stop-color="#a0d669"/><stop offset="0.3333" stop-color="#b7e075"/><stop offset="0.3750" stop-color="#cbe982"/><stop offset="0.4167" stop-color="#dff293"/><stop offset="0.4583" stop-color="#eff8aa"/><stop offset="0.5000" stop-color="#feffbe"/><stop offset="0.5417" stop-color="#fff2aa"/><stop offset="0.5833" stop-color="#fee593"/><stop offset="0.6250" stop-color="#fed481"/><stop offset="0.6667" stop-color="#fdbf6f"/><stop offset="0.7083" stop-color="#fca85e"/><stop offset="0.7500" stop-color="#f98e52"/><stop offset="0.7917" stop-color="#f57245"/><stop offset="0.8333" stop-color="#ea5739"/><stop offset="0.8750" stop-color="#de402e"/><stop offset="0.9167" stop-color="#ce2827"/><stop offset="0.9583" stop-color="#b91326"/><stop offset="1.0000" stop-color="#a50026"/></linearGradient><linearGradient id="g2" x1="0" y1="0" x2="0" y2="1"><stop offset="0.0000" stop-color="#fff5f0"/><stop offset="0.0417" stop-color="#ffeee7"/><stop offset="0.0833" stop-color="#fee7dc"/><stop offset="0.1250" stop-color="#fee0d2"/><stop offset="0.1667" stop-color="#fdd4c2"/><stop offset="0.2083" stop-color="#fdc7b2"/><stop offset="0.2500" stop-color="#fcbba1"/><stop offset="0.2917" stop-color="#fcae92"/><stop offset="0.3333" stop-color="#fca082"/><stop offset="0.3750" stop-color="#fc9272"/><stop offset="0.4167" stop-color="#fc8565"/><stop offset="0.4583" stop-color="#fb7757"/><stop offset="0.5000" stop-color="#fb694a"/><stop offset="0.5417" stop-color="#f75b40"/><stop offset="0.5833" stop-color="#f34a36"/><stop offset="0.6250" stop-color="#ee3a2c"/><stop offset="0.6667" stop-color="#e32f27"/><stop offset="0.7083" stop-color="#d72322"/><stop offset="0.7500" stop-color="#ca181d"/><stop offset="0.7917" stop-color="#be151a"/><stop offset="0.8333" stop-color="#b11218"/><stop offset="0.8750" stop-color="#a30f15"/><stop offset="0.9167" stop-color="#900a12"/><stop offset="0.9583" stop-color="#7a0510"/><stop offset="1.0000" stop-color="#67000d"/></linearGradient></defs>
<rect x="623.1" y="15.3" width="10.0" height="190.4" fill="url(#g1)" stroke="#bbb" stroke-width="0.6"/>
<path d="M633.1 15.3h1.6" stroke="#555" stroke-width="0.4"/>
<text x="636.1" y="17.1" class="cb">0</text>
<path d="M633.1 42.5h1.6" stroke="#555" stroke-width="0.4"/>
<text x="636.1" y="44.3" class="cb">−2</text>
<path d="M633.1 69.7h1.6" stroke="#555" stroke-width="0.4"/>
<text x="636.1" y="71.5" class="cb">−4</text>
<path d="M633.1 96.9h1.6" stroke="#555" stroke-width="0.4"/>
<text x="636.1" y="98.7" class="cb">−6</text>
<path d="M633.1 124.1h1.6" stroke="#555" stroke-width="0.4"/>
<text x="636.1" y="125.9" class="cb">−8</text>
<path d="M633.1 151.3h1.6" stroke="#555" stroke-width="0.4"/>
<text x="636.1" y="153.1" class="cb">−10</text>
<path d="M633.1 178.5h1.6" stroke="#555" stroke-width="0.4"/>
<text x="636.1" y="180.3" class="cb">−12</text>
<path d="M633.1 205.7h1.6" stroke="#555" stroke-width="0.4"/>
<text x="636.1" y="207.5" class="cb">−14</text>
<rect x="622.5" y="243.3" width="10.7" height="199.3" fill="url(#g2)" stroke="#6e6e6e" stroke-width="0.6"/>
<path d="M633.2 243.3h1.6" stroke="#555" stroke-width="0.4"/>
<text x="636.2" y="245.1" class="cb">0</text>
<path d="M633.2 268.2h1.6" stroke="#555" stroke-width="0.4"/>
<text x="636.2" y="270.0" class="cb">−5</text>
<path d="M633.2 293.1h1.6" stroke="#555" stroke-width="0.4"/>
<text x="636.2" y="294.9" class="cb">−10</text>
<path d="M633.2 318.0h1.6" stroke="#555" stroke-width="0.4"/>
<text x="636.2" y="319.8" class="cb">−15</text>
<path d="M633.2 343.0h1.6" stroke="#555" stroke-width="0.4"/>
<text x="636.2" y="344.8" class="cb">−20</text>
<path d="M633.2 367.9h1.6" stroke="#555" stroke-width="0.4"/>
<text x="636.2" y="369.7" class="cb">−25</text>
<path d="M633.2 392.8h1.6" stroke="#555" stroke-width="0.4"/>
<text x="636.2" y="394.6" class="cb">−30</text>
<path d="M633.2 417.7h1.6" stroke="#555" stroke-width="0.4"/>
<text x="636.2" y="419.5" class="cb">−35</text>
<path d="M633.2 442.6h1.6" stroke="#555" stroke-width="0.4"/>
<text x="636.2" y="444.4" class="cb">−40</text>
<rect x="622.5" y="464.5" width="10.7" height="196.9" fill="url(#g2)" stroke="#6e6e6e" stroke-width="0.6"/>
<path d="M633.2 464.5h1.6" stroke="#555" stroke-width="0.4"/>
<text x="636.2" y="466.3" class="cb">0</text>
<path d="M633.2 489.1h1.6" stroke="#555" stroke-width="0.4"/>
<text x="636.2" y="490.9" class="cb">−5</text>
<path d="M633.2 513.7h1.6" stroke="#555" stroke-width="0.4"/>
<text x="636.2" y="515.5" class="cb">−10</text>
<path d="M633.2 538.3h1.6" stroke="#555" stroke-width="0.4"/>
<text x="636.2" y="540.1" class="cb">−15</text>
<path d="M633.2 563.0h1.6" stroke="#555" stroke-width="0.4"/>
<text x="636.2" y="564.8" class="cb">−20</text>
<path d="M633.2 587.6h1.6" stroke="#555" stroke-width="0.4"/>
<text x="636.2" y="589.4" class="cb">−25</text>
<path d="M633.2 612.2h1.6" stroke="#555" stroke-width="0.4"/>
<text x="636.2" y="614.0" class="cb">−30</text>
<path d="M633.2 636.8h1.6" stroke="#555" stroke-width="0.4"/>
<text x="636.2" y="638.6" class="cb">−35</text>
<path d="M633.2 661.4h1.6" stroke="#555" stroke-width="0.4"/>
<text x="636.2" y="663.2" class="cb">−40</text>
<path d="M440.5 216.8h.7M462.1 216.8h.7M476.9 216.8h.7" stroke="#999" stroke-width="0.7"/>
</svg>
<div class="t ttl" style="left:126.8px;top:-0.8px;">(+) 1.5&#176;C Warming</div>
<div class="t ttl" style="left:424px;top:-0.8px;">(+) 3.5&#176;C Warming</div>
<div class="t pl" style="left:22.2px;top:0.5px;">a</div>
<div class="t pl" style="left:312.9px;top:0.5px;">b</div>
<div class="t pl" style="left:20.9px;top:224.7px;">c</div>
<div class="t pl" style="left:313.3px;top:224.7px;">d</div>
<div class="t pl" style="left:20.7px;top:449.2px;">e</div>
<div class="t pl" style="left:314px;top:448.9px;">f</div>
<div class="t" style="left:234.4px;top:217.6px;font-size:10.3px;word-spacing:-0.8px;">Long i tude</div>
<div class="t rot" style="left:7.3px;top:68.6px;font-size:10.5px;transform:rotate(-90deg);letter-spacing:0.5px;">Lat i tude</div>
<div class="t rot" style="left:-0.4px;top:162.3px;font-size:9.2px;transform:rotate(-90deg);letter-spacing:0.33px;">Aggregate Crop</div>
<div class="t rot" style="left:1.2px;top:377.3px;font-size:9.4px;transform:rotate(-90deg);letter-spacing:0.42px;">Indoor workers</div>
<div class="t rot" style="left:2.8px;top:583.3px;font-size:9.6px;transform:rotate(-90deg);letter-spacing:0.35px;">Outdoor workers</div>
<div class="t rot sb" style="left:684.9px;top:44.8px;font-size:10.03px;transform:rotate(90deg);">% Changes to the base situation</div>
<div class="t rot sb" style="left:681.3px;top:287.3px;font-size:10.33px;transform:rotate(90deg);">Heat stress-induced labour productivity loss in crop prodcution (in %)</div>
</div></body></html>
